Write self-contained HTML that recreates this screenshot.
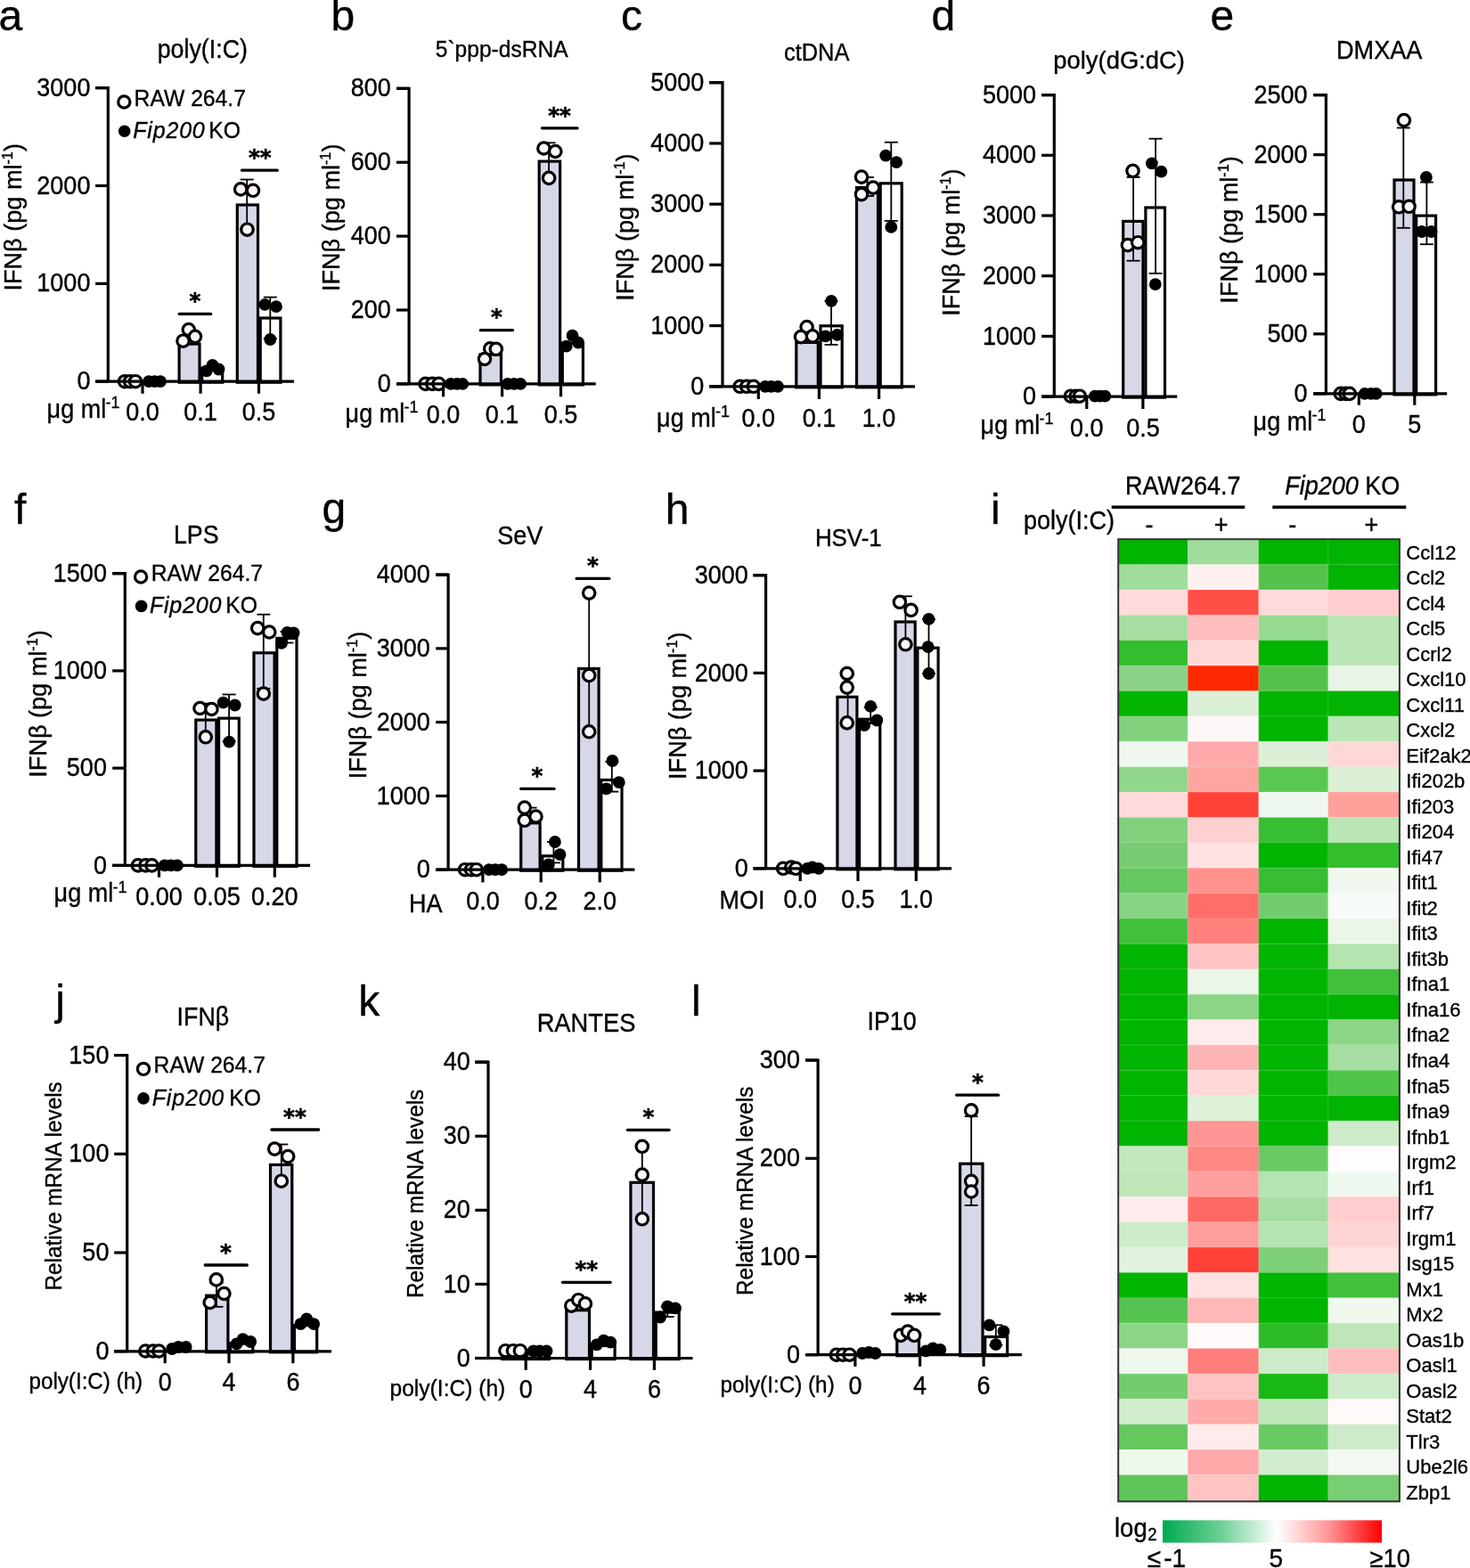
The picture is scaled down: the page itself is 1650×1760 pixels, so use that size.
<!DOCTYPE html>
<html><head><meta charset="utf-8"><title>Figure</title>
<style>html,body{margin:0;padding:0;background:#fff;}svg{display:block;}</style>
</head><body>
<svg xmlns="http://www.w3.org/2000/svg" width="1650" height="1760" viewBox="0 0 1650 1760" font-family="'Liberation Sans', Arial, Helvetica, sans-serif"><style>text{stroke:#000;stroke-width:0.35px;}</style>
<rect x="201.1" y="386.1" width="22.9" height="43.1" fill="#d6d8e8" stroke="#000" stroke-width="3.2"/>
<rect x="226.7" y="413.1" width="23" height="16.1" fill="#fff" stroke="#000" stroke-width="3.2"/>
<rect x="266.3" y="230" width="23.2" height="199.2" fill="#d6d8e8" stroke="#000" stroke-width="3.2"/>
<rect x="292.2" y="357" width="22.7" height="72.2" fill="#fff" stroke="#000" stroke-width="3.2"/>
<line x1="277.2" y1="201.5" x2="277.2" y2="257" stroke="#000" stroke-width="1.8" stroke-linecap="butt"/>
<line x1="269.7" y1="201.5" x2="284.7" y2="201.5" stroke="#000" stroke-width="1.8" stroke-linecap="butt"/>
<line x1="269.7" y1="257" x2="284.7" y2="257" stroke="#000" stroke-width="1.8" stroke-linecap="butt"/>
<line x1="303.3" y1="333.6" x2="303.3" y2="380" stroke="#000" stroke-width="1.8" stroke-linecap="butt"/>
<line x1="295.8" y1="333.6" x2="310.8" y2="333.6" stroke="#000" stroke-width="1.8" stroke-linecap="butt"/>
<line x1="295.8" y1="380" x2="310.8" y2="380" stroke="#000" stroke-width="1.8" stroke-linecap="butt"/>
<circle cx="140" cy="428.2" r="6.7" fill="#fdf7fc" stroke="#000" stroke-width="3.2"/>
<circle cx="146" cy="428.2" r="6.7" fill="#fdf7fc" stroke="#000" stroke-width="3.2"/>
<circle cx="152" cy="428.2" r="6.7" fill="#fdf7fc" stroke="#000" stroke-width="3.2"/>
<circle cx="205.5" cy="382.7" r="6.7" fill="#fdf7fc" stroke="#000" stroke-width="3.2"/>
<circle cx="211.8" cy="370" r="6.7" fill="#fdf7fc" stroke="#000" stroke-width="3.2"/>
<circle cx="219" cy="377.8" r="6.7" fill="#fdf7fc" stroke="#000" stroke-width="3.2"/>
<circle cx="270.2" cy="212.4" r="6.7" fill="#fdf7fc" stroke="#000" stroke-width="3.2"/>
<circle cx="284" cy="213.8" r="6.7" fill="#fdf7fc" stroke="#000" stroke-width="3.2"/>
<circle cx="277.5" cy="257.7" r="6.7" fill="#fdf7fc" stroke="#000" stroke-width="3.2"/>
<circle cx="167" cy="428.2" r="6.9" fill="#000"/>
<circle cx="173.6" cy="428.2" r="6.9" fill="#000"/>
<circle cx="180" cy="428.2" r="6.9" fill="#000"/>
<circle cx="231.8" cy="416.4" r="6.9" fill="#000"/>
<circle cx="238.5" cy="410" r="6.9" fill="#000"/>
<circle cx="245.5" cy="414.5" r="6.9" fill="#000"/>
<circle cx="297.3" cy="341.8" r="6.9" fill="#000"/>
<circle cx="310" cy="344.2" r="6.9" fill="#000"/>
<circle cx="303.3" cy="381" r="6.9" fill="#000"/>
<path d="M107.1 98.6H121.3V428.2" fill="none" stroke="#000" stroke-width="3.2" stroke-linejoin="miter"/>
<line x1="107.1" y1="428.2" x2="330" y2="428.2" stroke="#000" stroke-width="3.2" stroke-linecap="butt"/>
<line x1="107.1" y1="98.6" x2="121.3" y2="98.6" stroke="#000" stroke-width="3.2" stroke-linecap="butt"/>
<text transform="translate(101.4 107.72) scale(1 1.07)" font-size="27" text-anchor="end">3000</text>
<line x1="107.1" y1="208.47" x2="121.3" y2="208.47" stroke="#000" stroke-width="3.2" stroke-linecap="butt"/>
<text transform="translate(101.4 217.59) scale(1 1.07)" font-size="27" text-anchor="end">2000</text>
<line x1="107.1" y1="318.33" x2="121.3" y2="318.33" stroke="#000" stroke-width="3.2" stroke-linecap="butt"/>
<text transform="translate(101.4 327.45) scale(1 1.07)" font-size="27" text-anchor="end">1000</text>
<line x1="107.1" y1="428.2" x2="121.3" y2="428.2" stroke="#000" stroke-width="3.2" stroke-linecap="butt"/>
<text transform="translate(101.4 437.32) scale(1 1.07)" font-size="27" text-anchor="end">0</text>
<line x1="160" y1="428.2" x2="160" y2="441.8" stroke="#000" stroke-width="3.2" stroke-linecap="butt"/>
<line x1="225.1" y1="428.2" x2="225.1" y2="441.8" stroke="#000" stroke-width="3.2" stroke-linecap="butt"/>
<line x1="290.5" y1="428.2" x2="290.5" y2="441.8" stroke="#000" stroke-width="3.2" stroke-linecap="butt"/>
<text transform="translate(160 472.1) scale(1 1.07)" font-size="27" text-anchor="middle">0.0</text>
<text transform="translate(225.1 472.1) scale(1 1.07)" font-size="27" text-anchor="middle">0.1</text>
<text transform="translate(290.5 472.1) scale(1 1.07)" font-size="27" text-anchor="middle">0.5</text>
<text transform="translate(52.6 468.8) scale(1 1.07)" font-size="27">μg ml<tspan font-size="18" dy="-10" dx="-0.7">-1</tspan></text>
<text transform="translate(227.3 64.8) scale(1 1.07)" font-size="26.8" text-anchor="middle">poly(I:C)</text>
<text transform="translate(-1.5 34)" font-size="48">a</text>
<text transform="translate(23.9 243.8) rotate(-90) scale(1 1.03)" font-size="27.1" text-anchor="middle">IFNβ (pg ml<tspan font-size="16.26" dy="-9.7">-1</tspan><tspan dy="9.7">)</tspan></text>
<line x1="201.2" y1="352.4" x2="236.6" y2="352.4" stroke="#000" stroke-width="3.3" stroke-linecap="round"/>
<text transform="translate(219 346.1)" font-size="24.5" text-anchor="middle" font-weight="bold" font-family="'DejaVu Sans', sans-serif" style="stroke-width:0.6px">*</text>
<line x1="271.6" y1="191.2" x2="311.2" y2="191.2" stroke="#000" stroke-width="3.3" stroke-linecap="round"/>
<text transform="translate(291.7 184.9)" font-size="24.5" text-anchor="middle" font-weight="bold" font-family="'DejaVu Sans', sans-serif" style="stroke-width:0.6px">**</text>
<circle cx="139.3" cy="114.5" r="6.6" fill="#fdf7fc" stroke="#000" stroke-width="3.2"/>
<circle cx="139.7" cy="147.2" r="6.8" fill="#000"/>
<text transform="translate(150.6 119) scale(1 1.02)" font-size="24.7">RAW 264.7</text>
<text transform="translate(149.3 155) scale(1 1.02)" font-size="25" font-style="italic" letter-spacing="0.8">Fip200</text>
<text transform="translate(234.2 155) scale(1 1.02)" font-size="24.7">KO</text>
<rect x="539" y="397.9" width="23.5" height="34" fill="#d6d8e8" stroke="#000" stroke-width="3.2"/>
<rect x="605.2" y="181.1" width="23.4" height="250.8" fill="#d6d8e8" stroke="#000" stroke-width="3.2"/>
<rect x="631.3" y="385.1" width="23.1" height="46.8" fill="#fff" stroke="#000" stroke-width="3.2"/>
<line x1="616.1" y1="160.3" x2="616.1" y2="199" stroke="#000" stroke-width="1.8" stroke-linecap="butt"/>
<line x1="608.6" y1="160.3" x2="623.6" y2="160.3" stroke="#000" stroke-width="1.8" stroke-linecap="butt"/>
<line x1="608.6" y1="199" x2="623.6" y2="199" stroke="#000" stroke-width="1.8" stroke-linecap="butt"/>
<circle cx="477.6" cy="430.9" r="6.7" fill="#fdf7fc" stroke="#000" stroke-width="3.2"/>
<circle cx="485.3" cy="430.9" r="6.7" fill="#fdf7fc" stroke="#000" stroke-width="3.2"/>
<circle cx="492.5" cy="430.9" r="6.7" fill="#fdf7fc" stroke="#000" stroke-width="3.2"/>
<circle cx="544" cy="403" r="6.7" fill="#fdf7fc" stroke="#000" stroke-width="3.2"/>
<circle cx="550.2" cy="391.3" r="6.7" fill="#fdf7fc" stroke="#000" stroke-width="3.2"/>
<circle cx="556.8" cy="391.8" r="6.7" fill="#fdf7fc" stroke="#000" stroke-width="3.2"/>
<circle cx="610.4" cy="166.5" r="6.7" fill="#fdf7fc" stroke="#000" stroke-width="3.2"/>
<circle cx="623.3" cy="170" r="6.7" fill="#fdf7fc" stroke="#000" stroke-width="3.2"/>
<circle cx="616.1" cy="199.9" r="6.7" fill="#fdf7fc" stroke="#000" stroke-width="3.2"/>
<circle cx="505.9" cy="430.9" r="6.9" fill="#000"/>
<circle cx="513" cy="430.9" r="6.9" fill="#000"/>
<circle cx="519.2" cy="430.9" r="6.9" fill="#000"/>
<circle cx="569.8" cy="430.9" r="6.9" fill="#000"/>
<circle cx="577" cy="430.9" r="6.9" fill="#000"/>
<circle cx="584.2" cy="430.9" r="6.9" fill="#000"/>
<circle cx="635.7" cy="388.7" r="6.9" fill="#000"/>
<circle cx="642.5" cy="376.7" r="6.9" fill="#000"/>
<circle cx="649" cy="384.5" r="6.9" fill="#000"/>
<path d="M445 99.3H459.1V430.9" fill="none" stroke="#000" stroke-width="3.2" stroke-linejoin="miter"/>
<line x1="445" y1="430.9" x2="668.7" y2="430.9" stroke="#000" stroke-width="3.2" stroke-linecap="butt"/>
<line x1="445" y1="99.3" x2="459.1" y2="99.3" stroke="#000" stroke-width="3.2" stroke-linecap="butt"/>
<text transform="translate(438.8 108.42) scale(1 1.07)" font-size="27" text-anchor="end">800</text>
<line x1="445" y1="182.2" x2="459.1" y2="182.2" stroke="#000" stroke-width="3.2" stroke-linecap="butt"/>
<text transform="translate(438.8 191.32) scale(1 1.07)" font-size="27" text-anchor="end">600</text>
<line x1="445" y1="265.1" x2="459.1" y2="265.1" stroke="#000" stroke-width="3.2" stroke-linecap="butt"/>
<text transform="translate(438.8 274.22) scale(1 1.07)" font-size="27" text-anchor="end">400</text>
<line x1="445" y1="348" x2="459.1" y2="348" stroke="#000" stroke-width="3.2" stroke-linecap="butt"/>
<text transform="translate(438.8 357.12) scale(1 1.07)" font-size="27" text-anchor="end">200</text>
<line x1="445" y1="430.9" x2="459.1" y2="430.9" stroke="#000" stroke-width="3.2" stroke-linecap="butt"/>
<text transform="translate(438.8 440.02) scale(1 1.07)" font-size="27" text-anchor="end">0</text>
<line x1="497.6" y1="430.9" x2="497.6" y2="445.3" stroke="#000" stroke-width="3.2" stroke-linecap="butt"/>
<line x1="563.6" y1="430.9" x2="563.6" y2="445.3" stroke="#000" stroke-width="3.2" stroke-linecap="butt"/>
<line x1="629.5" y1="430.9" x2="629.5" y2="445.3" stroke="#000" stroke-width="3.2" stroke-linecap="butt"/>
<text transform="translate(497.6 474.7) scale(1 1.07)" font-size="27" text-anchor="middle">0.0</text>
<text transform="translate(563.6 474.7) scale(1 1.07)" font-size="27" text-anchor="middle">0.1</text>
<text transform="translate(629.5 474.7) scale(1 1.07)" font-size="27" text-anchor="middle">0.5</text>
<text transform="translate(387.6 473.6) scale(1 1.07)" font-size="27">μg ml<tspan font-size="18" dy="-10" dx="-0.7">-1</tspan></text>
<text transform="translate(563.2 64.3) scale(1 1.07)" font-size="24.6" text-anchor="middle">5`ppp-dsRNA</text>
<text transform="translate(371.5 34)" font-size="48">b</text>
<text transform="translate(380.8 244.3) rotate(-90) scale(1 1.03)" font-size="27.1" text-anchor="middle">IFNβ (pg ml<tspan font-size="16.26" dy="-9.7">-1</tspan><tspan dy="9.7">)</tspan></text>
<line x1="539.4" y1="370.7" x2="575.4" y2="370.7" stroke="#000" stroke-width="3.3" stroke-linecap="round"/>
<text transform="translate(557.4 364.4)" font-size="24.5" text-anchor="middle" font-weight="bold" font-family="'DejaVu Sans', sans-serif" style="stroke-width:0.6px">*</text>
<line x1="608.4" y1="143.8" x2="648.1" y2="143.8" stroke="#000" stroke-width="3.3" stroke-linecap="round"/>
<text transform="translate(628 137.5)" font-size="24.5" text-anchor="middle" font-weight="bold" font-family="'DejaVu Sans', sans-serif" style="stroke-width:0.6px">**</text>
<rect x="893.8" y="384.4" width="24.5" height="50.4" fill="#d6d8e8" stroke="#000" stroke-width="3.2"/>
<rect x="921" y="365.8" width="24.2" height="69" fill="#fff" stroke="#000" stroke-width="3.2"/>
<rect x="961.5" y="210.5" width="24" height="224.3" fill="#d6d8e8" stroke="#000" stroke-width="3.2"/>
<rect x="988.2" y="205.8" width="24" height="229" fill="#fff" stroke="#000" stroke-width="3.2"/>
<line x1="933" y1="337.8" x2="933" y2="386.9" stroke="#000" stroke-width="1.8" stroke-linecap="butt"/>
<line x1="925.5" y1="337.8" x2="940.5" y2="337.8" stroke="#000" stroke-width="1.8" stroke-linecap="butt"/>
<line x1="925.5" y1="386.9" x2="940.5" y2="386.9" stroke="#000" stroke-width="1.8" stroke-linecap="butt"/>
<line x1="973.5" y1="199" x2="973.5" y2="220" stroke="#000" stroke-width="1.8" stroke-linecap="butt"/>
<line x1="966" y1="199" x2="981" y2="199" stroke="#000" stroke-width="1.8" stroke-linecap="butt"/>
<line x1="966" y1="220" x2="981" y2="220" stroke="#000" stroke-width="1.8" stroke-linecap="butt"/>
<line x1="1000.3" y1="159.7" x2="1000.3" y2="247.9" stroke="#000" stroke-width="1.8" stroke-linecap="butt"/>
<line x1="992.8" y1="159.7" x2="1007.8" y2="159.7" stroke="#000" stroke-width="1.8" stroke-linecap="butt"/>
<line x1="992.8" y1="247.9" x2="1007.8" y2="247.9" stroke="#000" stroke-width="1.8" stroke-linecap="butt"/>
<circle cx="830.6" cy="433.8" r="6.7" fill="#fdf7fc" stroke="#000" stroke-width="3.2"/>
<circle cx="838.2" cy="433.8" r="6.7" fill="#fdf7fc" stroke="#000" stroke-width="3.2"/>
<circle cx="845.8" cy="433.8" r="6.7" fill="#fdf7fc" stroke="#000" stroke-width="3.2"/>
<circle cx="905.6" cy="367" r="6.7" fill="#fdf7fc" stroke="#000" stroke-width="3.2"/>
<circle cx="899" cy="378.1" r="6.7" fill="#fdf7fc" stroke="#000" stroke-width="3.2"/>
<circle cx="912.1" cy="377.3" r="6.7" fill="#fdf7fc" stroke="#000" stroke-width="3.2"/>
<circle cx="967" cy="198.6" r="6.7" fill="#fdf7fc" stroke="#000" stroke-width="3.2"/>
<circle cx="980" cy="210.6" r="6.7" fill="#fdf7fc" stroke="#000" stroke-width="3.2"/>
<circle cx="967" cy="218.2" r="6.7" fill="#fdf7fc" stroke="#000" stroke-width="3.2"/>
<circle cx="858.9" cy="433.8" r="6.9" fill="#000"/>
<circle cx="865.5" cy="433.8" r="6.9" fill="#000"/>
<circle cx="873.1" cy="433.8" r="6.9" fill="#000"/>
<circle cx="926.6" cy="377.3" r="6.9" fill="#000"/>
<circle cx="939.7" cy="375.9" r="6.9" fill="#000"/>
<circle cx="933.1" cy="337.8" r="6.9" fill="#000"/>
<circle cx="994.2" cy="174.6" r="6.9" fill="#000"/>
<circle cx="1006.2" cy="182.2" r="6.9" fill="#000"/>
<circle cx="1000.3" cy="254.9" r="6.9" fill="#000"/>
<path d="M796.2 92.7H811V433.8" fill="none" stroke="#000" stroke-width="3.2" stroke-linejoin="miter"/>
<line x1="796.2" y1="433.8" x2="1027" y2="433.8" stroke="#000" stroke-width="3.2" stroke-linecap="butt"/>
<line x1="796.2" y1="92.7" x2="811" y2="92.7" stroke="#000" stroke-width="3.2" stroke-linecap="butt"/>
<text transform="translate(790.2 101.82) scale(1 1.07)" font-size="27" text-anchor="end">5000</text>
<line x1="796.2" y1="160.92" x2="811" y2="160.92" stroke="#000" stroke-width="3.2" stroke-linecap="butt"/>
<text transform="translate(790.2 170.04) scale(1 1.07)" font-size="27" text-anchor="end">4000</text>
<line x1="796.2" y1="229.14" x2="811" y2="229.14" stroke="#000" stroke-width="3.2" stroke-linecap="butt"/>
<text transform="translate(790.2 238.26) scale(1 1.07)" font-size="27" text-anchor="end">3000</text>
<line x1="796.2" y1="297.36" x2="811" y2="297.36" stroke="#000" stroke-width="3.2" stroke-linecap="butt"/>
<text transform="translate(790.2 306.48) scale(1 1.07)" font-size="27" text-anchor="end">2000</text>
<line x1="796.2" y1="365.58" x2="811" y2="365.58" stroke="#000" stroke-width="3.2" stroke-linecap="butt"/>
<text transform="translate(790.2 374.7) scale(1 1.07)" font-size="27" text-anchor="end">1000</text>
<line x1="796.2" y1="433.8" x2="811" y2="433.8" stroke="#000" stroke-width="3.2" stroke-linecap="butt"/>
<text transform="translate(790.2 442.92) scale(1 1.07)" font-size="27" text-anchor="end">0</text>
<line x1="851.3" y1="433.8" x2="851.3" y2="448" stroke="#000" stroke-width="3.2" stroke-linecap="butt"/>
<line x1="919.4" y1="433.8" x2="919.4" y2="448" stroke="#000" stroke-width="3.2" stroke-linecap="butt"/>
<line x1="986.6" y1="433.8" x2="986.6" y2="448" stroke="#000" stroke-width="3.2" stroke-linecap="butt"/>
<text transform="translate(851.3 479.3) scale(1 1.07)" font-size="27" text-anchor="middle">0.0</text>
<text transform="translate(919.4 479.3) scale(1 1.07)" font-size="27" text-anchor="middle">0.1</text>
<text transform="translate(986.6 479.3) scale(1 1.07)" font-size="27" text-anchor="middle">1.0</text>
<text transform="translate(737.1 478.6) scale(1 1.07)" font-size="27">μg ml<tspan font-size="18" dy="-10" dx="-0.7">-1</tspan></text>
<text transform="translate(916.7 67.6) scale(1 1.07)" font-size="25.4" text-anchor="middle">ctDNA</text>
<text transform="translate(697 34.3)" font-size="48">c</text>
<text transform="translate(711.2 255.1) rotate(-90) scale(1 1.03)" font-size="27.1" text-anchor="middle">IFNβ (pg ml<tspan font-size="16.26" dy="-9.7">-1</tspan><tspan dy="9.7">)</tspan></text>
<rect x="1260.7" y="248.4" width="22.3" height="197.7" fill="#d6d8e8" stroke="#000" stroke-width="3.2"/>
<rect x="1285.9" y="233" width="21.6" height="213.1" fill="#fff" stroke="#000" stroke-width="3.2"/>
<line x1="1272.1" y1="198.9" x2="1272.1" y2="292.7" stroke="#000" stroke-width="1.8" stroke-linecap="butt"/>
<line x1="1264.6" y1="198.9" x2="1279.6" y2="198.9" stroke="#000" stroke-width="1.8" stroke-linecap="butt"/>
<line x1="1264.6" y1="292.7" x2="1279.6" y2="292.7" stroke="#000" stroke-width="1.8" stroke-linecap="butt"/>
<line x1="1297.1" y1="155.7" x2="1297.1" y2="306.9" stroke="#000" stroke-width="1.8" stroke-linecap="butt"/>
<line x1="1289.6" y1="155.7" x2="1304.6" y2="155.7" stroke="#000" stroke-width="1.8" stroke-linecap="butt"/>
<line x1="1289.6" y1="306.9" x2="1304.6" y2="306.9" stroke="#000" stroke-width="1.8" stroke-linecap="butt"/>
<circle cx="1201.9" cy="444.7" r="6.7" fill="#fdf7fc" stroke="#000" stroke-width="3.2"/>
<circle cx="1207.6" cy="444.7" r="6.7" fill="#fdf7fc" stroke="#000" stroke-width="3.2"/>
<circle cx="1211.9" cy="444.7" r="6.7" fill="#fdf7fc" stroke="#000" stroke-width="3.2"/>
<circle cx="1271.5" cy="191.8" r="6.7" fill="#fdf7fc" stroke="#000" stroke-width="3.2"/>
<circle cx="1265.9" cy="275.1" r="6.7" fill="#fdf7fc" stroke="#000" stroke-width="3.2"/>
<circle cx="1277.2" cy="272.2" r="6.7" fill="#fdf7fc" stroke="#000" stroke-width="3.2"/>
<circle cx="1228.9" cy="444.7" r="6.9" fill="#000"/>
<circle cx="1234.6" cy="444.7" r="6.9" fill="#000"/>
<circle cx="1240.3" cy="444.7" r="6.9" fill="#000"/>
<circle cx="1292.9" cy="183.3" r="6.9" fill="#000"/>
<circle cx="1303.4" cy="192.7" r="6.9" fill="#000"/>
<circle cx="1296.8" cy="319.1" r="6.9" fill="#000"/>
<path d="M1169.1 106.6H1183.3V445.1" fill="none" stroke="#000" stroke-width="3.2" stroke-linejoin="miter"/>
<line x1="1169.1" y1="445.1" x2="1321.3" y2="445.1" stroke="#000" stroke-width="3.2" stroke-linecap="butt"/>
<line x1="1169.1" y1="106.6" x2="1183.3" y2="106.6" stroke="#000" stroke-width="3.2" stroke-linecap="butt"/>
<text transform="translate(1163 115.72) scale(1 1.07)" font-size="27" text-anchor="end">5000</text>
<line x1="1169.1" y1="174.3" x2="1183.3" y2="174.3" stroke="#000" stroke-width="3.2" stroke-linecap="butt"/>
<text transform="translate(1163 183.42) scale(1 1.07)" font-size="27" text-anchor="end">4000</text>
<line x1="1169.1" y1="242" x2="1183.3" y2="242" stroke="#000" stroke-width="3.2" stroke-linecap="butt"/>
<text transform="translate(1163 251.12) scale(1 1.07)" font-size="27" text-anchor="end">3000</text>
<line x1="1169.1" y1="309.7" x2="1183.3" y2="309.7" stroke="#000" stroke-width="3.2" stroke-linecap="butt"/>
<text transform="translate(1163 318.82) scale(1 1.07)" font-size="27" text-anchor="end">2000</text>
<line x1="1169.1" y1="377.4" x2="1183.3" y2="377.4" stroke="#000" stroke-width="3.2" stroke-linecap="butt"/>
<text transform="translate(1163 386.52) scale(1 1.07)" font-size="27" text-anchor="end">1000</text>
<line x1="1169.1" y1="445.1" x2="1183.3" y2="445.1" stroke="#000" stroke-width="3.2" stroke-linecap="butt"/>
<text transform="translate(1163 454.22) scale(1 1.07)" font-size="27" text-anchor="end">0</text>
<line x1="1219.8" y1="445.1" x2="1219.8" y2="459" stroke="#000" stroke-width="3.2" stroke-linecap="butt"/>
<line x1="1282.9" y1="445.1" x2="1282.9" y2="459" stroke="#000" stroke-width="3.2" stroke-linecap="butt"/>
<text transform="translate(1219.8 490.4) scale(1 1.07)" font-size="27" text-anchor="middle">0.0</text>
<text transform="translate(1282.9 490.4) scale(1 1.07)" font-size="27" text-anchor="middle">0.5</text>
<text transform="translate(1100.6 486.8) scale(1 1.07)" font-size="27">μg ml<tspan font-size="18" dy="-10" dx="-0.7">-1</tspan></text>
<text transform="translate(1256.1 77.3) scale(1 0.98)" font-size="27.4" text-anchor="middle">poly(dG:dC)</text>
<text transform="translate(1045.5 34.1)" font-size="48">d</text>
<text transform="translate(1076.5 272.1) rotate(-90) scale(1 1.03)" font-size="27.1" text-anchor="middle">IFNβ (pg ml<tspan font-size="16.26" dy="-9.7">-1</tspan><tspan dy="9.7">)</tspan></text>
<rect x="1565" y="202" width="22" height="240.9" fill="#d6d8e8" stroke="#000" stroke-width="3.2"/>
<rect x="1589.7" y="242.1" width="21.9" height="200.8" fill="#fff" stroke="#000" stroke-width="3.2"/>
<line x1="1575.3" y1="143.5" x2="1575.3" y2="255.8" stroke="#000" stroke-width="1.8" stroke-linecap="butt"/>
<line x1="1567.8" y1="143.5" x2="1582.8" y2="143.5" stroke="#000" stroke-width="1.8" stroke-linecap="butt"/>
<line x1="1567.8" y1="255.8" x2="1582.8" y2="255.8" stroke="#000" stroke-width="1.8" stroke-linecap="butt"/>
<line x1="1601.4" y1="204.6" x2="1601.4" y2="274.2" stroke="#000" stroke-width="1.8" stroke-linecap="butt"/>
<line x1="1593.9" y1="204.6" x2="1608.9" y2="204.6" stroke="#000" stroke-width="1.8" stroke-linecap="butt"/>
<line x1="1593.9" y1="274.2" x2="1608.9" y2="274.2" stroke="#000" stroke-width="1.8" stroke-linecap="butt"/>
<circle cx="1504.8" cy="441.9" r="6.7" fill="#fdf7fc" stroke="#000" stroke-width="3.2"/>
<circle cx="1510.5" cy="441.9" r="6.7" fill="#fdf7fc" stroke="#000" stroke-width="3.2"/>
<circle cx="1514.8" cy="441.9" r="6.7" fill="#fdf7fc" stroke="#000" stroke-width="3.2"/>
<circle cx="1575.9" cy="135" r="6.7" fill="#fdf7fc" stroke="#000" stroke-width="3.2"/>
<circle cx="1570.1" cy="232.3" r="6.7" fill="#fdf7fc" stroke="#000" stroke-width="3.2"/>
<circle cx="1581.6" cy="231.8" r="6.7" fill="#fdf7fc" stroke="#000" stroke-width="3.2"/>
<circle cx="1531.8" cy="441.9" r="6.9" fill="#000"/>
<circle cx="1538.9" cy="441.9" r="6.9" fill="#000"/>
<circle cx="1544.6" cy="441.9" r="6.9" fill="#000"/>
<circle cx="1600.9" cy="198.9" r="6.9" fill="#000"/>
<circle cx="1595.8" cy="260" r="6.9" fill="#000"/>
<circle cx="1606.6" cy="260" r="6.9" fill="#000"/>
<path d="M1474.2 106.6H1488.4V441.9" fill="none" stroke="#000" stroke-width="3.2" stroke-linejoin="miter"/>
<line x1="1474.2" y1="441.9" x2="1624.2" y2="441.9" stroke="#000" stroke-width="3.2" stroke-linecap="butt"/>
<line x1="1474.2" y1="106.6" x2="1488.4" y2="106.6" stroke="#000" stroke-width="3.2" stroke-linecap="butt"/>
<text transform="translate(1467.6 115.72) scale(1 1.07)" font-size="27" text-anchor="end">2500</text>
<line x1="1474.2" y1="173.66" x2="1488.4" y2="173.66" stroke="#000" stroke-width="3.2" stroke-linecap="butt"/>
<text transform="translate(1467.6 182.78) scale(1 1.07)" font-size="27" text-anchor="end">2000</text>
<line x1="1474.2" y1="240.72" x2="1488.4" y2="240.72" stroke="#000" stroke-width="3.2" stroke-linecap="butt"/>
<text transform="translate(1467.6 249.84) scale(1 1.07)" font-size="27" text-anchor="end">1500</text>
<line x1="1474.2" y1="307.78" x2="1488.4" y2="307.78" stroke="#000" stroke-width="3.2" stroke-linecap="butt"/>
<text transform="translate(1467.6 316.9) scale(1 1.07)" font-size="27" text-anchor="end">1000</text>
<line x1="1474.2" y1="374.84" x2="1488.4" y2="374.84" stroke="#000" stroke-width="3.2" stroke-linecap="butt"/>
<text transform="translate(1467.6 383.96) scale(1 1.07)" font-size="27" text-anchor="end">500</text>
<line x1="1474.2" y1="441.9" x2="1488.4" y2="441.9" stroke="#000" stroke-width="3.2" stroke-linecap="butt"/>
<text transform="translate(1467.6 451.02) scale(1 1.07)" font-size="27" text-anchor="end">0</text>
<line x1="1525.3" y1="441.9" x2="1525.3" y2="454.7" stroke="#000" stroke-width="3.2" stroke-linecap="butt"/>
<line x1="1587.8" y1="441.9" x2="1587.8" y2="454.7" stroke="#000" stroke-width="3.2" stroke-linecap="butt"/>
<text transform="translate(1525.3 486.2) scale(1 1.07)" font-size="27" text-anchor="middle">0</text>
<text transform="translate(1587.8 486.2) scale(1 1.07)" font-size="27" text-anchor="middle">5</text>
<text transform="translate(1406.6 482.6) scale(1 1.07)" font-size="27">μg ml<tspan font-size="18" dy="-10" dx="-0.7">-1</tspan></text>
<text transform="translate(1548.2 65.9) scale(1 1.07)" font-size="27.1" text-anchor="middle">DMXAA</text>
<text transform="translate(1358.5 34.1)" font-size="48">e</text>
<text transform="translate(1389.3 257.9) rotate(-90) scale(1 1.03)" font-size="27.1" text-anchor="middle">IFNβ (pg ml<tspan font-size="16.26" dy="-9.7">-1</tspan><tspan dy="9.7">)</tspan></text>
<rect x="219.8" y="808.1" width="23.1" height="164.3" fill="#d6d8e8" stroke="#000" stroke-width="3.2"/>
<rect x="245.6" y="806.2" width="22.7" height="166.2" fill="#fff" stroke="#000" stroke-width="3.2"/>
<rect x="285" y="732.8" width="23.1" height="239.6" fill="#d6d8e8" stroke="#000" stroke-width="3.2"/>
<rect x="310.8" y="716.4" width="22.2" height="256" fill="#fff" stroke="#000" stroke-width="3.2"/>
<line x1="230.8" y1="789.7" x2="230.8" y2="826" stroke="#000" stroke-width="1.8" stroke-linecap="butt"/>
<line x1="223.3" y1="789.7" x2="238.3" y2="789.7" stroke="#000" stroke-width="1.8" stroke-linecap="butt"/>
<line x1="223.3" y1="826" x2="238.3" y2="826" stroke="#000" stroke-width="1.8" stroke-linecap="butt"/>
<line x1="257.1" y1="779.5" x2="257.1" y2="832" stroke="#000" stroke-width="1.8" stroke-linecap="butt"/>
<line x1="249.6" y1="779.5" x2="264.6" y2="779.5" stroke="#000" stroke-width="1.8" stroke-linecap="butt"/>
<line x1="249.6" y1="832" x2="264.6" y2="832" stroke="#000" stroke-width="1.8" stroke-linecap="butt"/>
<line x1="295.8" y1="689.7" x2="295.8" y2="772.8" stroke="#000" stroke-width="1.8" stroke-linecap="butt"/>
<line x1="288.3" y1="689.7" x2="303.3" y2="689.7" stroke="#000" stroke-width="1.8" stroke-linecap="butt"/>
<line x1="288.3" y1="772.8" x2="303.3" y2="772.8" stroke="#000" stroke-width="1.8" stroke-linecap="butt"/>
<line x1="322" y1="709" x2="322" y2="721.5" stroke="#000" stroke-width="1.8" stroke-linecap="butt"/>
<line x1="314.5" y1="709" x2="329.5" y2="709" stroke="#000" stroke-width="1.8" stroke-linecap="butt"/>
<line x1="314.5" y1="721.5" x2="329.5" y2="721.5" stroke="#000" stroke-width="1.8" stroke-linecap="butt"/>
<circle cx="154.9" cy="971.4" r="6.7" fill="#fdf7fc" stroke="#000" stroke-width="3.2"/>
<circle cx="163.4" cy="971.4" r="6.7" fill="#fdf7fc" stroke="#000" stroke-width="3.2"/>
<circle cx="170.5" cy="971.4" r="6.7" fill="#fdf7fc" stroke="#000" stroke-width="3.2"/>
<circle cx="224.5" cy="795" r="6.7" fill="#fdf7fc" stroke="#000" stroke-width="3.2"/>
<circle cx="237.5" cy="796" r="6.7" fill="#fdf7fc" stroke="#000" stroke-width="3.2"/>
<circle cx="230.8" cy="827.3" r="6.7" fill="#fdf7fc" stroke="#000" stroke-width="3.2"/>
<circle cx="289.2" cy="705.1" r="6.7" fill="#fdf7fc" stroke="#000" stroke-width="3.2"/>
<circle cx="302.3" cy="709.5" r="6.7" fill="#fdf7fc" stroke="#000" stroke-width="3.2"/>
<circle cx="295.8" cy="778.6" r="6.7" fill="#fdf7fc" stroke="#000" stroke-width="3.2"/>
<circle cx="184.7" cy="971.4" r="6.9" fill="#000"/>
<circle cx="191.8" cy="971.4" r="6.9" fill="#000"/>
<circle cx="198.9" cy="971.4" r="6.9" fill="#000"/>
<circle cx="250.6" cy="788.7" r="6.9" fill="#000"/>
<circle cx="263.7" cy="791.5" r="6.9" fill="#000"/>
<circle cx="257.2" cy="832.7" r="6.9" fill="#000"/>
<circle cx="316" cy="721.9" r="6.9" fill="#000"/>
<circle cx="322.5" cy="709.9" r="6.9" fill="#000"/>
<circle cx="329.6" cy="710.5" r="6.9" fill="#000"/>
<path d="M126.2 643.7H140.3V971.4" fill="none" stroke="#000" stroke-width="3.2" stroke-linejoin="miter"/>
<line x1="126.2" y1="971.4" x2="348.1" y2="971.4" stroke="#000" stroke-width="3.2" stroke-linecap="butt"/>
<line x1="126.2" y1="643.7" x2="140.3" y2="643.7" stroke="#000" stroke-width="3.2" stroke-linecap="butt"/>
<text transform="translate(119.9 652.82) scale(1 1.07)" font-size="27" text-anchor="end">1500</text>
<line x1="126.2" y1="752.93" x2="140.3" y2="752.93" stroke="#000" stroke-width="3.2" stroke-linecap="butt"/>
<text transform="translate(119.9 762.05) scale(1 1.07)" font-size="27" text-anchor="end">1000</text>
<line x1="126.2" y1="862.17" x2="140.3" y2="862.17" stroke="#000" stroke-width="3.2" stroke-linecap="butt"/>
<text transform="translate(119.9 871.29) scale(1 1.07)" font-size="27" text-anchor="end">500</text>
<line x1="126.2" y1="971.4" x2="140.3" y2="971.4" stroke="#000" stroke-width="3.2" stroke-linecap="butt"/>
<text transform="translate(119.9 980.52) scale(1 1.07)" font-size="27" text-anchor="end">0</text>
<line x1="178.5" y1="971.4" x2="178.5" y2="984.7" stroke="#000" stroke-width="3.2" stroke-linecap="butt"/>
<line x1="243.5" y1="971.4" x2="243.5" y2="984.7" stroke="#000" stroke-width="3.2" stroke-linecap="butt"/>
<line x1="308.3" y1="971.4" x2="308.3" y2="984.7" stroke="#000" stroke-width="3.2" stroke-linecap="butt"/>
<text transform="translate(178.5 1015.7) scale(1 1.07)" font-size="27" text-anchor="middle">0.00</text>
<text transform="translate(243.5 1015.7) scale(1 1.07)" font-size="27" text-anchor="middle">0.05</text>
<text transform="translate(308.3 1015.7) scale(1 1.07)" font-size="27" text-anchor="middle">0.20</text>
<text transform="translate(60.6 1012.3) scale(1 1.07)" font-size="27">μg ml<tspan font-size="18" dy="-10" dx="-0.7">-1</tspan></text>
<text transform="translate(220.2 609.6) scale(1 1.07)" font-size="26.8" text-anchor="middle">LPS</text>
<text transform="translate(16 588.3)" font-size="48">f</text>
<text transform="translate(52.2 790) rotate(-90) scale(1 1.03)" font-size="27.1" text-anchor="middle">IFNβ (pg ml<tspan font-size="16.26" dy="-9.7">-1</tspan><tspan dy="9.7">)</tspan></text>
<circle cx="158.1" cy="647.5" r="6.6" fill="#fdf7fc" stroke="#000" stroke-width="3.2"/>
<circle cx="158.6" cy="680.4" r="6.8" fill="#000"/>
<text transform="translate(169.7 651.8) scale(1 1.02)" font-size="24.7">RAW 264.7</text>
<text transform="translate(167.9 688.2) scale(1 1.02)" font-size="25" font-style="italic" letter-spacing="0.8">Fip200</text>
<text transform="translate(253.3 688.2) scale(1 1.02)" font-size="24.7">KO</text>
<rect x="584.7" y="923.8" width="21.4" height="53.4" fill="#d6d8e8" stroke="#000" stroke-width="3.2"/>
<rect x="608.8" y="960.8" width="23" height="16.4" fill="#fff" stroke="#000" stroke-width="3.2"/>
<rect x="649.5" y="750.5" width="22.6" height="226.7" fill="#d6d8e8" stroke="#000" stroke-width="3.2"/>
<rect x="674.8" y="875.5" width="23.2" height="101.7" fill="#fff" stroke="#000" stroke-width="3.2"/>
<line x1="595" y1="906.6" x2="595" y2="916" stroke="#000" stroke-width="1.8" stroke-linecap="butt"/>
<line x1="587.5" y1="906.6" x2="602.5" y2="906.6" stroke="#000" stroke-width="1.8" stroke-linecap="butt"/>
<line x1="587.5" y1="916" x2="602.5" y2="916" stroke="#000" stroke-width="1.8" stroke-linecap="butt"/>
<line x1="621.4" y1="945" x2="621.4" y2="968.4" stroke="#000" stroke-width="1.8" stroke-linecap="butt"/>
<line x1="613.9" y1="945" x2="628.9" y2="945" stroke="#000" stroke-width="1.8" stroke-linecap="butt"/>
<line x1="613.9" y1="968.4" x2="628.9" y2="968.4" stroke="#000" stroke-width="1.8" stroke-linecap="butt"/>
<line x1="661.2" y1="665" x2="661.2" y2="821" stroke="#000" stroke-width="1.8" stroke-linecap="butt"/>
<line x1="653.7" y1="665" x2="668.7" y2="665" stroke="#000" stroke-width="1.8" stroke-linecap="butt"/>
<line x1="653.7" y1="821" x2="668.7" y2="821" stroke="#000" stroke-width="1.8" stroke-linecap="butt"/>
<line x1="686.8" y1="855" x2="686.8" y2="888.6" stroke="#000" stroke-width="1.8" stroke-linecap="butt"/>
<line x1="679.3" y1="855" x2="694.3" y2="855" stroke="#000" stroke-width="1.8" stroke-linecap="butt"/>
<line x1="679.3" y1="888.6" x2="694.3" y2="888.6" stroke="#000" stroke-width="1.8" stroke-linecap="butt"/>
<circle cx="522" cy="976.2" r="6.7" fill="#fdf7fc" stroke="#000" stroke-width="3.2"/>
<circle cx="529" cy="976.2" r="6.7" fill="#fdf7fc" stroke="#000" stroke-width="3.2"/>
<circle cx="534.8" cy="976.2" r="6.7" fill="#fdf7fc" stroke="#000" stroke-width="3.2"/>
<circle cx="588.8" cy="906.6" r="6.7" fill="#fdf7fc" stroke="#000" stroke-width="3.2"/>
<circle cx="588.8" cy="920.8" r="6.7" fill="#fdf7fc" stroke="#000" stroke-width="3.2"/>
<circle cx="601.5" cy="916.5" r="6.7" fill="#fdf7fc" stroke="#000" stroke-width="3.2"/>
<circle cx="661.2" cy="665.6" r="6.7" fill="#fdf7fc" stroke="#000" stroke-width="3.2"/>
<circle cx="661.2" cy="758.2" r="6.7" fill="#fdf7fc" stroke="#000" stroke-width="3.2"/>
<circle cx="661.2" cy="821.3" r="6.7" fill="#fdf7fc" stroke="#000" stroke-width="3.2"/>
<circle cx="549" cy="976.2" r="6.9" fill="#000"/>
<circle cx="556" cy="976.2" r="6.9" fill="#000"/>
<circle cx="563.2" cy="976.2" r="6.9" fill="#000"/>
<circle cx="622.9" cy="945" r="6.9" fill="#000"/>
<circle cx="628.5" cy="959.2" r="6.9" fill="#000"/>
<circle cx="615.8" cy="970.5" r="6.9" fill="#000"/>
<circle cx="687.4" cy="854" r="6.9" fill="#000"/>
<circle cx="694.8" cy="878.2" r="6.9" fill="#000"/>
<circle cx="680.5" cy="885.3" r="6.9" fill="#000"/>
<path d="M489.2 645.1H503.1V976.2" fill="none" stroke="#000" stroke-width="3.2" stroke-linejoin="miter"/>
<line x1="489.2" y1="976.2" x2="712.4" y2="976.2" stroke="#000" stroke-width="3.2" stroke-linecap="butt"/>
<line x1="489.2" y1="645.1" x2="503.1" y2="645.1" stroke="#000" stroke-width="3.2" stroke-linecap="butt"/>
<text transform="translate(482.8 654.22) scale(1 1.07)" font-size="27" text-anchor="end">4000</text>
<line x1="489.2" y1="727.88" x2="503.1" y2="727.88" stroke="#000" stroke-width="3.2" stroke-linecap="butt"/>
<text transform="translate(482.8 737) scale(1 1.07)" font-size="27" text-anchor="end">3000</text>
<line x1="489.2" y1="810.65" x2="503.1" y2="810.65" stroke="#000" stroke-width="3.2" stroke-linecap="butt"/>
<text transform="translate(482.8 819.77) scale(1 1.07)" font-size="27" text-anchor="end">2000</text>
<line x1="489.2" y1="893.43" x2="503.1" y2="893.43" stroke="#000" stroke-width="3.2" stroke-linecap="butt"/>
<text transform="translate(482.8 902.55) scale(1 1.07)" font-size="27" text-anchor="end">1000</text>
<line x1="489.2" y1="976.2" x2="503.1" y2="976.2" stroke="#000" stroke-width="3.2" stroke-linecap="butt"/>
<text transform="translate(482.8 985.32) scale(1 1.07)" font-size="27" text-anchor="end">0</text>
<line x1="541.9" y1="976.2" x2="541.9" y2="990.4" stroke="#000" stroke-width="3.2" stroke-linecap="butt"/>
<line x1="607.2" y1="976.2" x2="607.2" y2="990.4" stroke="#000" stroke-width="3.2" stroke-linecap="butt"/>
<line x1="673.2" y1="976.2" x2="673.2" y2="990.4" stroke="#000" stroke-width="3.2" stroke-linecap="butt"/>
<text transform="translate(541.9 1020.9) scale(1 1.07)" font-size="27" text-anchor="middle">0.0</text>
<text transform="translate(607.2 1020.9) scale(1 1.07)" font-size="27" text-anchor="middle">0.2</text>
<text transform="translate(673.2 1020.9) scale(1 1.07)" font-size="27" text-anchor="middle">2.0</text>
<text transform="translate(459 1023.6) scale(1 1.07)" font-size="27">HA</text>
<text transform="translate(583.8 611) scale(1 1.07)" font-size="27.1" text-anchor="middle">SeV</text>
<text transform="translate(361.5 586.9)" font-size="48">g</text>
<text transform="translate(410.6 791.5) rotate(-90) scale(1 1.03)" font-size="27.1" text-anchor="middle">IFNβ (pg ml<tspan font-size="16.26" dy="-9.7">-1</tspan><tspan dy="9.7">)</tspan></text>
<line x1="584.7" y1="885.3" x2="622.1" y2="885.3" stroke="#000" stroke-width="3.3" stroke-linecap="round"/>
<text transform="translate(603 879)" font-size="24.5" text-anchor="middle" font-weight="bold" font-family="'DejaVu Sans', sans-serif" style="stroke-width:0.6px">*</text>
<line x1="647.2" y1="649.4" x2="683.8" y2="649.4" stroke="#000" stroke-width="3.3" stroke-linecap="round"/>
<text transform="translate(665.5 643.1)" font-size="24.5" text-anchor="middle" font-weight="bold" font-family="'DejaVu Sans', sans-serif" style="stroke-width:0.6px">*</text>
<rect x="939.9" y="782.3" width="22" height="193.5" fill="#d6d8e8" stroke="#000" stroke-width="3.2"/>
<rect x="964.6" y="807.3" width="23.2" height="168.5" fill="#fff" stroke="#000" stroke-width="3.2"/>
<rect x="1005" y="698" width="22.2" height="277.8" fill="#d6d8e8" stroke="#000" stroke-width="3.2"/>
<rect x="1029.9" y="727.2" width="23.2" height="248.6" fill="#fff" stroke="#000" stroke-width="3.2"/>
<line x1="951.6" y1="757" x2="951.6" y2="811" stroke="#000" stroke-width="1.8" stroke-linecap="butt"/>
<line x1="944.1" y1="757" x2="959.1" y2="757" stroke="#000" stroke-width="1.8" stroke-linecap="butt"/>
<line x1="944.1" y1="811" x2="959.1" y2="811" stroke="#000" stroke-width="1.8" stroke-linecap="butt"/>
<line x1="977.2" y1="794" x2="977.2" y2="812" stroke="#000" stroke-width="1.8" stroke-linecap="butt"/>
<line x1="969.7" y1="794" x2="984.7" y2="794" stroke="#000" stroke-width="1.8" stroke-linecap="butt"/>
<line x1="969.7" y1="812" x2="984.7" y2="812" stroke="#000" stroke-width="1.8" stroke-linecap="butt"/>
<line x1="1016.4" y1="669.3" x2="1016.4" y2="724" stroke="#000" stroke-width="1.8" stroke-linecap="butt"/>
<line x1="1008.9" y1="669.3" x2="1023.9" y2="669.3" stroke="#000" stroke-width="1.8" stroke-linecap="butt"/>
<line x1="1008.9" y1="724" x2="1023.9" y2="724" stroke="#000" stroke-width="1.8" stroke-linecap="butt"/>
<line x1="1042.5" y1="695" x2="1042.5" y2="756" stroke="#000" stroke-width="1.8" stroke-linecap="butt"/>
<line x1="1035" y1="695" x2="1050" y2="695" stroke="#000" stroke-width="1.8" stroke-linecap="butt"/>
<line x1="1035" y1="756" x2="1050" y2="756" stroke="#000" stroke-width="1.8" stroke-linecap="butt"/>
<circle cx="879.1" cy="974.8" r="6.7" fill="#fdf7fc" stroke="#000" stroke-width="3.2"/>
<circle cx="888.2" cy="973.5" r="6.7" fill="#fdf7fc" stroke="#000" stroke-width="3.2"/>
<circle cx="893.3" cy="974.8" r="6.7" fill="#fdf7fc" stroke="#000" stroke-width="3.2"/>
<circle cx="950.7" cy="756" r="6.7" fill="#fdf7fc" stroke="#000" stroke-width="3.2"/>
<circle cx="950.7" cy="771.6" r="6.7" fill="#fdf7fc" stroke="#000" stroke-width="3.2"/>
<circle cx="950.7" cy="811.4" r="6.7" fill="#fdf7fc" stroke="#000" stroke-width="3.2"/>
<circle cx="1009.9" cy="675.8" r="6.7" fill="#fdf7fc" stroke="#000" stroke-width="3.2"/>
<circle cx="1022.6" cy="684.9" r="6.7" fill="#fdf7fc" stroke="#000" stroke-width="3.2"/>
<circle cx="1016.4" cy="723.3" r="6.7" fill="#fdf7fc" stroke="#000" stroke-width="3.2"/>
<circle cx="906.1" cy="974.8" r="6.9" fill="#000"/>
<circle cx="911.8" cy="973.5" r="6.9" fill="#000"/>
<circle cx="918.9" cy="974.8" r="6.9" fill="#000"/>
<circle cx="977.2" cy="792.9" r="6.9" fill="#000"/>
<circle cx="970.1" cy="814.2" r="6.9" fill="#000"/>
<circle cx="984.3" cy="808.5" r="6.9" fill="#000"/>
<circle cx="1042.5" cy="694.9" r="6.9" fill="#000"/>
<circle cx="1041.7" cy="726.1" r="6.9" fill="#000"/>
<circle cx="1042.5" cy="756" r="6.9" fill="#000"/>
<path d="M845.5 645.7H859.6V974.8" fill="none" stroke="#000" stroke-width="3.2" stroke-linejoin="miter"/>
<line x1="845.5" y1="974.8" x2="1068.1" y2="974.8" stroke="#000" stroke-width="3.2" stroke-linecap="butt"/>
<line x1="845.5" y1="645.7" x2="859.6" y2="645.7" stroke="#000" stroke-width="3.2" stroke-linecap="butt"/>
<text transform="translate(839.7 654.82) scale(1 1.07)" font-size="27" text-anchor="end">3000</text>
<line x1="845.5" y1="755.4" x2="859.6" y2="755.4" stroke="#000" stroke-width="3.2" stroke-linecap="butt"/>
<text transform="translate(839.7 764.52) scale(1 1.07)" font-size="27" text-anchor="end">2000</text>
<line x1="845.5" y1="865.1" x2="859.6" y2="865.1" stroke="#000" stroke-width="3.2" stroke-linecap="butt"/>
<text transform="translate(839.7 874.22) scale(1 1.07)" font-size="27" text-anchor="end">1000</text>
<line x1="845.5" y1="974.8" x2="859.6" y2="974.8" stroke="#000" stroke-width="3.2" stroke-linecap="butt"/>
<text transform="translate(839.7 983.92) scale(1 1.07)" font-size="27" text-anchor="end">0</text>
<line x1="898.2" y1="974.8" x2="898.2" y2="989" stroke="#000" stroke-width="3.2" stroke-linecap="butt"/>
<line x1="963" y1="974.8" x2="963" y2="989" stroke="#000" stroke-width="3.2" stroke-linecap="butt"/>
<line x1="1028.3" y1="974.8" x2="1028.3" y2="989" stroke="#000" stroke-width="3.2" stroke-linecap="butt"/>
<text transform="translate(898.2 1019.3) scale(1 1.07)" font-size="27" text-anchor="middle">0.0</text>
<text transform="translate(963 1019.3) scale(1 1.07)" font-size="27" text-anchor="middle">0.5</text>
<text transform="translate(1028.3 1019.3) scale(1 1.07)" font-size="27" text-anchor="middle">1.0</text>
<text transform="translate(807.5 1020.3) scale(1 1.07)" font-size="27">MOI</text>
<text transform="translate(952.3 612.5) scale(1 1.07)" font-size="25.9" text-anchor="middle">HSV-1</text>
<text transform="translate(746.7 588.3)" font-size="48">h</text>
<text transform="translate(770.2 792.2) rotate(-90) scale(1 1.03)" font-size="27.1" text-anchor="middle">IFNβ (pg ml<tspan font-size="16.26" dy="-9.7">-1</tspan><tspan dy="9.7">)</tspan></text>
<rect x="231.6" y="1454.2" width="24.3" height="63.6" fill="#d6d8e8" stroke="#000" stroke-width="3.2"/>
<rect x="258.6" y="1507.6" width="25.2" height="10.2" fill="#fff" stroke="#000" stroke-width="3.2"/>
<rect x="303.5" y="1307.4" width="24.3" height="210.4" fill="#d6d8e8" stroke="#000" stroke-width="3.2"/>
<rect x="330.5" y="1487.7" width="25.2" height="30.1" fill="#fff" stroke="#000" stroke-width="3.2"/>
<line x1="243" y1="1440" x2="243" y2="1466.8" stroke="#000" stroke-width="1.8" stroke-linecap="butt"/>
<line x1="235.5" y1="1440" x2="250.5" y2="1440" stroke="#000" stroke-width="1.8" stroke-linecap="butt"/>
<line x1="235.5" y1="1466.8" x2="250.5" y2="1466.8" stroke="#000" stroke-width="1.8" stroke-linecap="butt"/>
<line x1="315.8" y1="1284.5" x2="315.8" y2="1325.5" stroke="#000" stroke-width="1.8" stroke-linecap="butt"/>
<line x1="308.3" y1="1284.5" x2="323.3" y2="1284.5" stroke="#000" stroke-width="1.8" stroke-linecap="butt"/>
<line x1="308.3" y1="1325.5" x2="323.3" y2="1325.5" stroke="#000" stroke-width="1.8" stroke-linecap="butt"/>
<circle cx="163.3" cy="1516.5" r="6.7" fill="#fdf7fc" stroke="#000" stroke-width="3.2"/>
<circle cx="171.8" cy="1516.5" r="6.7" fill="#fdf7fc" stroke="#000" stroke-width="3.2"/>
<circle cx="178.4" cy="1516.5" r="6.7" fill="#fdf7fc" stroke="#000" stroke-width="3.2"/>
<circle cx="242.8" cy="1436.4" r="6.7" fill="#fdf7fc" stroke="#000" stroke-width="3.2"/>
<circle cx="251.4" cy="1452" r="6.7" fill="#fdf7fc" stroke="#000" stroke-width="3.2"/>
<circle cx="235.7" cy="1462" r="6.7" fill="#fdf7fc" stroke="#000" stroke-width="3.2"/>
<circle cx="308.2" cy="1289.6" r="6.7" fill="#fdf7fc" stroke="#000" stroke-width="3.2"/>
<circle cx="323.2" cy="1298.1" r="6.7" fill="#fdf7fc" stroke="#000" stroke-width="3.2"/>
<circle cx="315.8" cy="1325.7" r="6.7" fill="#fdf7fc" stroke="#000" stroke-width="3.2"/>
<circle cx="193.1" cy="1514" r="6.9" fill="#000"/>
<circle cx="200.2" cy="1512" r="6.9" fill="#000"/>
<circle cx="208.7" cy="1512" r="6.9" fill="#000"/>
<circle cx="265.6" cy="1508.3" r="6.9" fill="#000"/>
<circle cx="272.6" cy="1503.2" r="6.9" fill="#000"/>
<circle cx="281.2" cy="1506" r="6.9" fill="#000"/>
<circle cx="337.4" cy="1486.1" r="6.9" fill="#000"/>
<circle cx="344.2" cy="1480.5" r="6.9" fill="#000"/>
<circle cx="352.2" cy="1486.1" r="6.9" fill="#000"/>
<path d="M128.2 1184.5H142.7V1516.8" fill="none" stroke="#000" stroke-width="3.2" stroke-linejoin="miter"/>
<line x1="128.2" y1="1516.8" x2="372" y2="1516.8" stroke="#000" stroke-width="3.2" stroke-linecap="butt"/>
<line x1="128.2" y1="1184.5" x2="142.7" y2="1184.5" stroke="#000" stroke-width="3.2" stroke-linecap="butt"/>
<text transform="translate(122.4 1193.62) scale(1 1.07)" font-size="27" text-anchor="end">150</text>
<line x1="128.2" y1="1295.27" x2="142.7" y2="1295.27" stroke="#000" stroke-width="3.2" stroke-linecap="butt"/>
<text transform="translate(122.4 1304.39) scale(1 1.07)" font-size="27" text-anchor="end">100</text>
<line x1="128.2" y1="1406.03" x2="142.7" y2="1406.03" stroke="#000" stroke-width="3.2" stroke-linecap="butt"/>
<text transform="translate(122.4 1415.15) scale(1 1.07)" font-size="27" text-anchor="end">50</text>
<line x1="128.2" y1="1516.8" x2="142.7" y2="1516.8" stroke="#000" stroke-width="3.2" stroke-linecap="butt"/>
<text transform="translate(122.4 1525.92) scale(1 1.07)" font-size="27" text-anchor="end">0</text>
<line x1="185.2" y1="1516.8" x2="185.2" y2="1530.2" stroke="#000" stroke-width="3.2" stroke-linecap="butt"/>
<line x1="257" y1="1516.8" x2="257" y2="1530.2" stroke="#000" stroke-width="3.2" stroke-linecap="butt"/>
<line x1="328.9" y1="1516.8" x2="328.9" y2="1530.2" stroke="#000" stroke-width="3.2" stroke-linecap="butt"/>
<text transform="translate(185.2 1560.8) scale(1 1.07)" font-size="27" text-anchor="middle">0</text>
<text transform="translate(257 1560.8) scale(1 1.07)" font-size="27" text-anchor="middle">4</text>
<text transform="translate(328.9 1560.8) scale(1 1.07)" font-size="27" text-anchor="middle">6</text>
<text transform="translate(32.5 1559.1) scale(1 1.07)" font-size="24.2">poly(I:C) (h)</text>
<text transform="translate(227.9 1151) scale(1 1.07)" font-size="26.8" text-anchor="middle">IFNβ</text>
<text transform="translate(62.3 1138.5)" font-size="48">j</text>
<text transform="translate(69.2 1331.4) rotate(-90) scale(1 1.03)" font-size="24.4" text-anchor="middle">Relative mRNA levels</text>
<line x1="230.2" y1="1420" x2="277.3" y2="1420" stroke="#000" stroke-width="3.3" stroke-linecap="round"/>
<text transform="translate(253.3 1413.7)" font-size="24.5" text-anchor="middle" font-weight="bold" font-family="'DejaVu Sans', sans-serif" style="stroke-width:0.6px">*</text>
<line x1="304.9" y1="1268" x2="357.7" y2="1268" stroke="#000" stroke-width="3.3" stroke-linecap="round"/>
<text transform="translate(330.9 1261.7)" font-size="24.5" text-anchor="middle" font-weight="bold" font-family="'DejaVu Sans', sans-serif" style="stroke-width:0.6px">**</text>
<circle cx="161" cy="1199.9" r="6.6" fill="#fdf7fc" stroke="#000" stroke-width="3.2"/>
<circle cx="161" cy="1232.9" r="6.8" fill="#000"/>
<text transform="translate(172.6 1204.2) scale(1 1.02)" font-size="24.7">RAW 264.7</text>
<text transform="translate(170.8 1240.6) scale(1 1.02)" font-size="25" font-style="italic" letter-spacing="0.8">Fip200</text>
<text transform="translate(257.2 1240.6) scale(1 1.02)" font-size="24.7">KO</text>
<rect x="563.6" y="1517.6" width="25.5" height="7.9" fill="#d6d8e8" stroke="#000" stroke-width="3.2"/>
<rect x="591.8" y="1517.6" width="24.6" height="7.9" fill="#fff" stroke="#000" stroke-width="3.2"/>
<rect x="635.8" y="1470.7" width="25.7" height="54.8" fill="#d6d8e8" stroke="#000" stroke-width="3.2"/>
<rect x="664.2" y="1510.5" width="25.9" height="15" fill="#fff" stroke="#000" stroke-width="3.2"/>
<rect x="707.9" y="1327.3" width="25.6" height="198.2" fill="#d6d8e8" stroke="#000" stroke-width="3.2"/>
<rect x="736.2" y="1473.1" width="26" height="52.4" fill="#fff" stroke="#000" stroke-width="3.2"/>
<line x1="720.8" y1="1287" x2="720.8" y2="1368" stroke="#000" stroke-width="1.8" stroke-linecap="butt"/>
<line x1="713.3" y1="1287" x2="728.3" y2="1287" stroke="#000" stroke-width="1.8" stroke-linecap="butt"/>
<line x1="713.3" y1="1368" x2="728.3" y2="1368" stroke="#000" stroke-width="1.8" stroke-linecap="butt"/>
<line x1="749.2" y1="1466.5" x2="749.2" y2="1478" stroke="#000" stroke-width="1.8" stroke-linecap="butt"/>
<line x1="741.7" y1="1466.5" x2="756.7" y2="1466.5" stroke="#000" stroke-width="1.8" stroke-linecap="butt"/>
<line x1="741.7" y1="1478" x2="756.7" y2="1478" stroke="#000" stroke-width="1.8" stroke-linecap="butt"/>
<circle cx="567.4" cy="1516.2" r="6.7" fill="#fdf7fc" stroke="#000" stroke-width="3.2"/>
<circle cx="576" cy="1516.2" r="6.7" fill="#fdf7fc" stroke="#000" stroke-width="3.2"/>
<circle cx="583.9" cy="1516.2" r="6.7" fill="#fdf7fc" stroke="#000" stroke-width="3.2"/>
<circle cx="641.3" cy="1465.7" r="6.7" fill="#fdf7fc" stroke="#000" stroke-width="3.2"/>
<circle cx="649.2" cy="1459.2" r="6.7" fill="#fdf7fc" stroke="#000" stroke-width="3.2"/>
<circle cx="656.9" cy="1463.4" r="6.7" fill="#fdf7fc" stroke="#000" stroke-width="3.2"/>
<circle cx="720.8" cy="1286.8" r="6.7" fill="#fdf7fc" stroke="#000" stroke-width="3.2"/>
<circle cx="720.8" cy="1318.6" r="6.7" fill="#fdf7fc" stroke="#000" stroke-width="3.2"/>
<circle cx="720.8" cy="1368.3" r="6.7" fill="#fdf7fc" stroke="#000" stroke-width="3.2"/>
<circle cx="598.7" cy="1516.5" r="6.9" fill="#000"/>
<circle cx="605.8" cy="1516.5" r="6.9" fill="#000"/>
<circle cx="613.5" cy="1516.5" r="6.9" fill="#000"/>
<circle cx="669.7" cy="1509.4" r="6.9" fill="#000"/>
<circle cx="677.6" cy="1504.6" r="6.9" fill="#000"/>
<circle cx="685.3" cy="1506.6" r="6.9" fill="#000"/>
<circle cx="741.1" cy="1478.5" r="6.9" fill="#000"/>
<circle cx="749.2" cy="1466.3" r="6.9" fill="#000"/>
<circle cx="758" cy="1468.4" r="6.9" fill="#000"/>
<path d="M533.3 1192.2H548V1524.5" fill="none" stroke="#000" stroke-width="3.2" stroke-linejoin="miter"/>
<line x1="533.3" y1="1524.5" x2="777.5" y2="1524.5" stroke="#000" stroke-width="3.2" stroke-linecap="butt"/>
<line x1="533.3" y1="1192.2" x2="548" y2="1192.2" stroke="#000" stroke-width="3.2" stroke-linecap="butt"/>
<text transform="translate(527.8 1201.32) scale(1 1.07)" font-size="27" text-anchor="end">40</text>
<line x1="533.3" y1="1275.28" x2="548" y2="1275.28" stroke="#000" stroke-width="3.2" stroke-linecap="butt"/>
<text transform="translate(527.8 1284.4) scale(1 1.07)" font-size="27" text-anchor="end">30</text>
<line x1="533.3" y1="1358.35" x2="548" y2="1358.35" stroke="#000" stroke-width="3.2" stroke-linecap="butt"/>
<text transform="translate(527.8 1367.47) scale(1 1.07)" font-size="27" text-anchor="end">20</text>
<line x1="533.3" y1="1441.42" x2="548" y2="1441.42" stroke="#000" stroke-width="3.2" stroke-linecap="butt"/>
<text transform="translate(527.8 1450.55) scale(1 1.07)" font-size="27" text-anchor="end">10</text>
<line x1="533.3" y1="1524.5" x2="548" y2="1524.5" stroke="#000" stroke-width="3.2" stroke-linecap="butt"/>
<text transform="translate(527.8 1533.62) scale(1 1.07)" font-size="27" text-anchor="end">0</text>
<line x1="590.2" y1="1524.5" x2="590.2" y2="1537.8" stroke="#000" stroke-width="3.2" stroke-linecap="butt"/>
<line x1="662.6" y1="1524.5" x2="662.6" y2="1537.8" stroke="#000" stroke-width="3.2" stroke-linecap="butt"/>
<line x1="734.4" y1="1524.5" x2="734.4" y2="1537.8" stroke="#000" stroke-width="3.2" stroke-linecap="butt"/>
<text transform="translate(590.2 1568.9) scale(1 1.07)" font-size="27" text-anchor="middle">0</text>
<text transform="translate(662.6 1568.9) scale(1 1.07)" font-size="27" text-anchor="middle">4</text>
<text transform="translate(734.4 1568.9) scale(1 1.07)" font-size="27" text-anchor="middle">6</text>
<text transform="translate(437.5 1567.2) scale(1 1.07)" font-size="24.6">poly(I:C) (h)</text>
<text transform="translate(658 1158.1) scale(1 1.07)" font-size="27.3" text-anchor="middle">RANTES</text>
<text transform="translate(402.3 1140.2)" font-size="48">k</text>
<text transform="translate(474.7 1339.9) rotate(-90) scale(1 1.03)" font-size="24.4" text-anchor="middle">Relative mRNA levels</text>
<line x1="631.5" y1="1439.3" x2="685.1" y2="1439.3" stroke="#000" stroke-width="3.3" stroke-linecap="round"/>
<text transform="translate(658.3 1433)" font-size="24.5" text-anchor="middle" font-weight="bold" font-family="'DejaVu Sans', sans-serif" style="stroke-width:0.6px">**</text>
<line x1="704.5" y1="1268.3" x2="751" y2="1268.3" stroke="#000" stroke-width="3.3" stroke-linecap="round"/>
<text transform="translate(727.9 1262)" font-size="24.5" text-anchor="middle" font-weight="bold" font-family="'DejaVu Sans', sans-serif" style="stroke-width:0.6px">*</text>
<rect x="1006.8" y="1502" width="24.7" height="19.7" fill="#d6d8e8" stroke="#000" stroke-width="3.2"/>
<rect x="1077.6" y="1306.2" width="25.4" height="215.5" fill="#d6d8e8" stroke="#000" stroke-width="3.2"/>
<rect x="1105.7" y="1500.5" width="25" height="21.2" fill="#fff" stroke="#000" stroke-width="3.2"/>
<line x1="1090.2" y1="1253.1" x2="1090.2" y2="1352.9" stroke="#000" stroke-width="1.8" stroke-linecap="butt"/>
<line x1="1082.7" y1="1253.1" x2="1097.7" y2="1253.1" stroke="#000" stroke-width="1.8" stroke-linecap="butt"/>
<line x1="1082.7" y1="1352.9" x2="1097.7" y2="1352.9" stroke="#000" stroke-width="1.8" stroke-linecap="butt"/>
<line x1="1117.8" y1="1487.3" x2="1117.8" y2="1510" stroke="#000" stroke-width="1.8" stroke-linecap="butt"/>
<line x1="1110.3" y1="1487.3" x2="1125.3" y2="1487.3" stroke="#000" stroke-width="1.8" stroke-linecap="butt"/>
<line x1="1110.3" y1="1510" x2="1125.3" y2="1510" stroke="#000" stroke-width="1.8" stroke-linecap="butt"/>
<circle cx="938.9" cy="1520.7" r="6.7" fill="#fdf7fc" stroke="#000" stroke-width="3.2"/>
<circle cx="946.2" cy="1520.7" r="6.7" fill="#fdf7fc" stroke="#000" stroke-width="3.2"/>
<circle cx="953.5" cy="1520.7" r="6.7" fill="#fdf7fc" stroke="#000" stroke-width="3.2"/>
<circle cx="1011" cy="1498.9" r="6.7" fill="#fdf7fc" stroke="#000" stroke-width="3.2"/>
<circle cx="1018.9" cy="1494.5" r="6.7" fill="#fdf7fc" stroke="#000" stroke-width="3.2"/>
<circle cx="1026.2" cy="1498.9" r="6.7" fill="#fdf7fc" stroke="#000" stroke-width="3.2"/>
<circle cx="1090.2" cy="1246.4" r="6.7" fill="#fdf7fc" stroke="#000" stroke-width="3.2"/>
<circle cx="1090.2" cy="1325.8" r="6.7" fill="#fdf7fc" stroke="#000" stroke-width="3.2"/>
<circle cx="1090.2" cy="1337.5" r="6.7" fill="#fdf7fc" stroke="#000" stroke-width="3.2"/>
<circle cx="968" cy="1519" r="6.9" fill="#000"/>
<circle cx="975.3" cy="1518" r="6.9" fill="#000"/>
<circle cx="982.5" cy="1519" r="6.9" fill="#000"/>
<circle cx="1039.3" cy="1516.4" r="6.9" fill="#000"/>
<circle cx="1047.1" cy="1513.5" r="6.9" fill="#000"/>
<circle cx="1055.3" cy="1514.9" r="6.9" fill="#000"/>
<circle cx="1110.5" cy="1487.3" r="6.9" fill="#000"/>
<circle cx="1126.5" cy="1494.5" r="6.9" fill="#000"/>
<circle cx="1117.8" cy="1509.1" r="6.9" fill="#000"/>
<path d="M904 1190H918.1V1520.7" fill="none" stroke="#000" stroke-width="3.2" stroke-linejoin="miter"/>
<line x1="904" y1="1520.7" x2="1146.9" y2="1520.7" stroke="#000" stroke-width="3.2" stroke-linecap="butt"/>
<line x1="904" y1="1190" x2="918.1" y2="1190" stroke="#000" stroke-width="3.2" stroke-linecap="butt"/>
<text transform="translate(897.9 1199.12) scale(1 1.07)" font-size="27" text-anchor="end">300</text>
<line x1="904" y1="1300.23" x2="918.1" y2="1300.23" stroke="#000" stroke-width="3.2" stroke-linecap="butt"/>
<text transform="translate(897.9 1309.35) scale(1 1.07)" font-size="27" text-anchor="end">200</text>
<line x1="904" y1="1410.47" x2="918.1" y2="1410.47" stroke="#000" stroke-width="3.2" stroke-linecap="butt"/>
<text transform="translate(897.9 1419.59) scale(1 1.07)" font-size="27" text-anchor="end">100</text>
<line x1="904" y1="1520.7" x2="918.1" y2="1520.7" stroke="#000" stroke-width="3.2" stroke-linecap="butt"/>
<text transform="translate(897.9 1529.82) scale(1 1.07)" font-size="27" text-anchor="end">0</text>
<line x1="959.9" y1="1520.7" x2="959.9" y2="1533.8" stroke="#000" stroke-width="3.2" stroke-linecap="butt"/>
<line x1="1032.6" y1="1520.7" x2="1032.6" y2="1533.8" stroke="#000" stroke-width="3.2" stroke-linecap="butt"/>
<line x1="1104.1" y1="1520.7" x2="1104.1" y2="1533.8" stroke="#000" stroke-width="3.2" stroke-linecap="butt"/>
<text transform="translate(959.9 1564.9) scale(1 1.07)" font-size="27" text-anchor="middle">0</text>
<text transform="translate(1032.6 1564.9) scale(1 1.07)" font-size="27" text-anchor="middle">4</text>
<text transform="translate(1104.1 1564.9) scale(1 1.07)" font-size="27" text-anchor="middle">6</text>
<text transform="translate(808.5 1563.1) scale(1 1.07)" font-size="24.3">poly(I:C) (h)</text>
<text transform="translate(1001 1156.2) scale(1 1.07)" font-size="26.8" text-anchor="middle">IP10</text>
<text transform="translate(776 1139.6)" font-size="48">l</text>
<text transform="translate(845.4 1336.8) rotate(-90) scale(1 1.03)" font-size="24.4" text-anchor="middle">Relative mRNA levels</text>
<line x1="1001.6" y1="1474.8" x2="1054.3" y2="1474.8" stroke="#000" stroke-width="3.3" stroke-linecap="round"/>
<text transform="translate(1027.6 1468.5)" font-size="24.5" text-anchor="middle" font-weight="bold" font-family="'DejaVu Sans', sans-serif" style="stroke-width:0.6px">**</text>
<line x1="1073.7" y1="1229.2" x2="1120.6" y2="1229.2" stroke="#000" stroke-width="3.3" stroke-linecap="round"/>
<text transform="translate(1097.5 1222.9)" font-size="24.5" text-anchor="middle" font-weight="bold" font-family="'DejaVu Sans', sans-serif" style="stroke-width:0.6px">*</text>
<rect x="1246.5" y="602" width="331" height="90" fill="#fbfbfb"/>
<rect x="1246.5" y="602" width="331" height="1090" fill="#fbfbfb"/>
<rect x="1255.2" y="605.2" width="78.3" height="28.68" fill="rgb(0,180,0)"/>
<rect x="1333.2" y="605.2" width="79.8" height="28.68" fill="rgb(160,220,155)"/>
<rect x="1412.7" y="605.2" width="78.3" height="28.68" fill="rgb(0,180,0)"/>
<rect x="1490.7" y="605.2" width="80.5" height="28.68" fill="rgb(0,180,0)"/>
<text transform="translate(1578.3 627.6)" font-size="22">Ccl12</text>
<rect x="1255.2" y="633.58" width="78.3" height="28.68" fill="rgb(160,220,155)"/>
<rect x="1333.2" y="633.58" width="79.8" height="28.68" fill="rgb(255,240,240)"/>
<rect x="1412.7" y="633.58" width="78.3" height="28.68" fill="rgb(85,195,75)"/>
<rect x="1490.7" y="633.58" width="80.5" height="28.68" fill="rgb(0,180,0)"/>
<text transform="translate(1578.3 656.12)" font-size="22">Ccl2</text>
<rect x="1255.2" y="661.97" width="78.3" height="28.68" fill="rgb(255,218,218)"/>
<rect x="1333.2" y="661.97" width="79.8" height="28.68" fill="rgb(255,80,72)"/>
<rect x="1412.7" y="661.97" width="78.3" height="28.68" fill="rgb(255,218,218)"/>
<rect x="1490.7" y="661.97" width="80.5" height="28.68" fill="rgb(255,205,205)"/>
<text transform="translate(1578.3 684.64)" font-size="22">Ccl4</text>
<rect x="1255.2" y="690.35" width="78.3" height="28.68" fill="rgb(165,222,160)"/>
<rect x="1333.2" y="690.35" width="79.8" height="28.68" fill="rgb(255,190,190)"/>
<rect x="1412.7" y="690.35" width="78.3" height="28.68" fill="rgb(150,218,145)"/>
<rect x="1490.7" y="690.35" width="80.5" height="28.68" fill="rgb(185,230,180)"/>
<text transform="translate(1578.3 713.16)" font-size="22">Ccl5</text>
<rect x="1255.2" y="718.74" width="78.3" height="28.68" fill="rgb(50,190,45)"/>
<rect x="1333.2" y="718.74" width="79.8" height="28.68" fill="rgb(255,215,215)"/>
<rect x="1412.7" y="718.74" width="78.3" height="28.68" fill="rgb(0,180,0)"/>
<rect x="1490.7" y="718.74" width="80.5" height="28.68" fill="rgb(185,230,180)"/>
<text transform="translate(1578.3 741.68)" font-size="22">Ccrl2</text>
<rect x="1255.2" y="747.12" width="78.3" height="28.68" fill="rgb(140,210,135)"/>
<rect x="1333.2" y="747.12" width="79.8" height="28.68" fill="rgb(255,40,0)"/>
<rect x="1412.7" y="747.12" width="78.3" height="28.68" fill="rgb(85,195,75)"/>
<rect x="1490.7" y="747.12" width="80.5" height="28.68" fill="rgb(232,245,230)"/>
<text transform="translate(1578.3 770.2)" font-size="22">Cxcl10</text>
<rect x="1255.2" y="775.5" width="78.3" height="28.68" fill="rgb(0,180,0)"/>
<rect x="1333.2" y="775.5" width="79.8" height="28.68" fill="rgb(220,240,215)"/>
<rect x="1412.7" y="775.5" width="78.3" height="28.68" fill="rgb(0,180,0)"/>
<rect x="1490.7" y="775.5" width="80.5" height="28.68" fill="rgb(0,180,0)"/>
<text transform="translate(1578.3 798.72)" font-size="22">Cxcl11</text>
<rect x="1255.2" y="803.89" width="78.3" height="28.68" fill="rgb(130,210,125)"/>
<rect x="1333.2" y="803.89" width="79.8" height="28.68" fill="rgb(255,248,248)"/>
<rect x="1412.7" y="803.89" width="78.3" height="28.68" fill="rgb(0,180,0)"/>
<rect x="1490.7" y="803.89" width="80.5" height="28.68" fill="rgb(185,230,180)"/>
<text transform="translate(1578.3 827.24)" font-size="22">Cxcl2</text>
<rect x="1255.2" y="832.27" width="78.3" height="28.68" fill="rgb(238,248,238)"/>
<rect x="1333.2" y="832.27" width="79.8" height="28.68" fill="rgb(255,170,170)"/>
<rect x="1412.7" y="832.27" width="78.3" height="28.68" fill="rgb(220,240,215)"/>
<rect x="1490.7" y="832.27" width="80.5" height="28.68" fill="rgb(255,215,215)"/>
<text transform="translate(1578.3 855.76)" font-size="22">Eif2ak2</text>
<rect x="1255.2" y="860.66" width="78.3" height="28.68" fill="rgb(145,215,140)"/>
<rect x="1333.2" y="860.66" width="79.8" height="28.68" fill="rgb(255,165,160)"/>
<rect x="1412.7" y="860.66" width="78.3" height="28.68" fill="rgb(90,200,80)"/>
<rect x="1490.7" y="860.66" width="80.5" height="28.68" fill="rgb(220,240,215)"/>
<text transform="translate(1578.3 884.28)" font-size="22">Ifi202b</text>
<rect x="1255.2" y="889.04" width="78.3" height="28.68" fill="rgb(255,218,218)"/>
<rect x="1333.2" y="889.04" width="79.8" height="28.68" fill="rgb(255,65,55)"/>
<rect x="1412.7" y="889.04" width="78.3" height="28.68" fill="rgb(238,248,238)"/>
<rect x="1490.7" y="889.04" width="80.5" height="28.68" fill="rgb(255,160,155)"/>
<text transform="translate(1578.3 912.8)" font-size="22">Ifi203</text>
<rect x="1255.2" y="917.42" width="78.3" height="28.68" fill="rgb(130,210,125)"/>
<rect x="1333.2" y="917.42" width="79.8" height="28.68" fill="rgb(255,208,208)"/>
<rect x="1412.7" y="917.42" width="78.3" height="28.68" fill="rgb(55,190,50)"/>
<rect x="1490.7" y="917.42" width="80.5" height="28.68" fill="rgb(185,230,180)"/>
<text transform="translate(1578.3 941.32)" font-size="22">Ifi204</text>
<rect x="1255.2" y="945.81" width="78.3" height="28.68" fill="rgb(120,205,115)"/>
<rect x="1333.2" y="945.81" width="79.8" height="28.68" fill="rgb(255,225,225)"/>
<rect x="1412.7" y="945.81" width="78.3" height="28.68" fill="rgb(0,180,0)"/>
<rect x="1490.7" y="945.81" width="80.5" height="28.68" fill="rgb(50,190,45)"/>
<text transform="translate(1578.3 969.84)" font-size="22">Ifi47</text>
<rect x="1255.2" y="974.19" width="78.3" height="28.68" fill="rgb(100,200,95)"/>
<rect x="1333.2" y="974.19" width="79.8" height="28.68" fill="rgb(255,145,140)"/>
<rect x="1412.7" y="974.19" width="78.3" height="28.68" fill="rgb(55,190,50)"/>
<rect x="1490.7" y="974.19" width="80.5" height="28.68" fill="rgb(240,248,240)"/>
<text transform="translate(1578.3 998.36)" font-size="22">Ifit1</text>
<rect x="1255.2" y="1002.58" width="78.3" height="28.68" fill="rgb(135,212,130)"/>
<rect x="1333.2" y="1002.58" width="79.8" height="28.68" fill="rgb(255,110,105)"/>
<rect x="1412.7" y="1002.58" width="78.3" height="28.68" fill="rgb(115,205,110)"/>
<rect x="1490.7" y="1002.58" width="80.5" height="28.68" fill="rgb(248,252,248)"/>
<text transform="translate(1578.3 1026.88)" font-size="22">Ifit2</text>
<rect x="1255.2" y="1030.96" width="78.3" height="28.68" fill="rgb(65,192,60)"/>
<rect x="1333.2" y="1030.96" width="79.8" height="28.68" fill="rgb(255,128,125)"/>
<rect x="1412.7" y="1030.96" width="78.3" height="28.68" fill="rgb(0,180,0)"/>
<rect x="1490.7" y="1030.96" width="80.5" height="28.68" fill="rgb(235,246,233)"/>
<text transform="translate(1578.3 1055.4)" font-size="22">Ifit3</text>
<rect x="1255.2" y="1059.34" width="78.3" height="28.68" fill="rgb(0,180,0)"/>
<rect x="1333.2" y="1059.34" width="79.8" height="28.68" fill="rgb(255,195,195)"/>
<rect x="1412.7" y="1059.34" width="78.3" height="28.68" fill="rgb(0,180,0)"/>
<rect x="1490.7" y="1059.34" width="80.5" height="28.68" fill="rgb(180,228,175)"/>
<text transform="translate(1578.3 1083.92)" font-size="22">Ifit3b</text>
<rect x="1255.2" y="1087.73" width="78.3" height="28.68" fill="rgb(0,180,0)"/>
<rect x="1333.2" y="1087.73" width="79.8" height="28.68" fill="rgb(235,246,233)"/>
<rect x="1412.7" y="1087.73" width="78.3" height="28.68" fill="rgb(0,180,0)"/>
<rect x="1490.7" y="1087.73" width="80.5" height="28.68" fill="rgb(65,192,60)"/>
<text transform="translate(1578.3 1112.44)" font-size="22">Ifna1</text>
<rect x="1255.2" y="1116.11" width="78.3" height="28.68" fill="rgb(0,180,0)"/>
<rect x="1333.2" y="1116.11" width="79.8" height="28.68" fill="rgb(140,213,135)"/>
<rect x="1412.7" y="1116.11" width="78.3" height="28.68" fill="rgb(0,180,0)"/>
<rect x="1490.7" y="1116.11" width="80.5" height="28.68" fill="rgb(0,180,0)"/>
<text transform="translate(1578.3 1140.96)" font-size="22">Ifna16</text>
<rect x="1255.2" y="1144.5" width="78.3" height="28.68" fill="rgb(0,180,0)"/>
<rect x="1333.2" y="1144.5" width="79.8" height="28.68" fill="rgb(255,235,235)"/>
<rect x="1412.7" y="1144.5" width="78.3" height="28.68" fill="rgb(0,180,0)"/>
<rect x="1490.7" y="1144.5" width="80.5" height="28.68" fill="rgb(140,213,135)"/>
<text transform="translate(1578.3 1169.48)" font-size="22">Ifna2</text>
<rect x="1255.2" y="1172.88" width="78.3" height="28.68" fill="rgb(0,180,0)"/>
<rect x="1333.2" y="1172.88" width="79.8" height="28.68" fill="rgb(255,180,180)"/>
<rect x="1412.7" y="1172.88" width="78.3" height="28.68" fill="rgb(0,180,0)"/>
<rect x="1490.7" y="1172.88" width="80.5" height="28.68" fill="rgb(165,222,160)"/>
<text transform="translate(1578.3 1198)" font-size="22">Ifna4</text>
<rect x="1255.2" y="1201.26" width="78.3" height="28.68" fill="rgb(0,180,0)"/>
<rect x="1333.2" y="1201.26" width="79.8" height="28.68" fill="rgb(255,215,215)"/>
<rect x="1412.7" y="1201.26" width="78.3" height="28.68" fill="rgb(0,180,0)"/>
<rect x="1490.7" y="1201.26" width="80.5" height="28.68" fill="rgb(80,198,72)"/>
<text transform="translate(1578.3 1226.52)" font-size="22">Ifna5</text>
<rect x="1255.2" y="1229.65" width="78.3" height="28.68" fill="rgb(0,180,0)"/>
<rect x="1333.2" y="1229.65" width="79.8" height="28.68" fill="rgb(222,242,218)"/>
<rect x="1412.7" y="1229.65" width="78.3" height="28.68" fill="rgb(0,180,0)"/>
<rect x="1490.7" y="1229.65" width="80.5" height="28.68" fill="rgb(0,180,0)"/>
<text transform="translate(1578.3 1255.04)" font-size="22">Ifna9</text>
<rect x="1255.2" y="1258.03" width="78.3" height="28.68" fill="rgb(0,180,0)"/>
<rect x="1333.2" y="1258.03" width="79.8" height="28.68" fill="rgb(255,150,148)"/>
<rect x="1412.7" y="1258.03" width="78.3" height="28.68" fill="rgb(0,180,0)"/>
<rect x="1490.7" y="1258.03" width="80.5" height="28.68" fill="rgb(205,235,200)"/>
<text transform="translate(1578.3 1283.56)" font-size="22">Ifnb1</text>
<rect x="1255.2" y="1286.42" width="78.3" height="28.68" fill="rgb(195,232,190)"/>
<rect x="1333.2" y="1286.42" width="79.8" height="28.68" fill="rgb(255,135,130)"/>
<rect x="1412.7" y="1286.42" width="78.3" height="28.68" fill="rgb(105,202,100)"/>
<rect x="1490.7" y="1286.42" width="80.5" height="28.68" fill="rgb(255,253,253)"/>
<text transform="translate(1578.3 1312.08)" font-size="22">Irgm2</text>
<rect x="1255.2" y="1314.8" width="78.3" height="28.68" fill="rgb(190,230,185)"/>
<rect x="1333.2" y="1314.8" width="79.8" height="28.68" fill="rgb(255,160,158)"/>
<rect x="1412.7" y="1314.8" width="78.3" height="28.68" fill="rgb(180,228,175)"/>
<rect x="1490.7" y="1314.8" width="80.5" height="28.68" fill="rgb(240,249,240)"/>
<text transform="translate(1578.3 1340.6)" font-size="22">Irf1</text>
<rect x="1255.2" y="1343.18" width="78.3" height="28.68" fill="rgb(255,236,236)"/>
<rect x="1333.2" y="1343.18" width="79.8" height="28.68" fill="rgb(255,105,100)"/>
<rect x="1412.7" y="1343.18" width="78.3" height="28.68" fill="rgb(165,222,160)"/>
<rect x="1490.7" y="1343.18" width="80.5" height="28.68" fill="rgb(255,205,205)"/>
<text transform="translate(1578.3 1369.12)" font-size="22">Irf7</text>
<rect x="1255.2" y="1371.57" width="78.3" height="28.68" fill="rgb(205,235,200)"/>
<rect x="1333.2" y="1371.57" width="79.8" height="28.68" fill="rgb(255,158,155)"/>
<rect x="1412.7" y="1371.57" width="78.3" height="28.68" fill="rgb(180,228,175)"/>
<rect x="1490.7" y="1371.57" width="80.5" height="28.68" fill="rgb(255,212,212)"/>
<text transform="translate(1578.3 1397.64)" font-size="22">Irgm1</text>
<rect x="1255.2" y="1399.95" width="78.3" height="28.68" fill="rgb(225,242,222)"/>
<rect x="1333.2" y="1399.95" width="79.8" height="28.68" fill="rgb(255,65,55)"/>
<rect x="1412.7" y="1399.95" width="78.3" height="28.68" fill="rgb(125,208,120)"/>
<rect x="1490.7" y="1399.95" width="80.5" height="28.68" fill="rgb(255,225,225)"/>
<text transform="translate(1578.3 1426.16)" font-size="22">Isg15</text>
<rect x="1255.2" y="1428.34" width="78.3" height="28.68" fill="rgb(0,180,0)"/>
<rect x="1333.2" y="1428.34" width="79.8" height="28.68" fill="rgb(255,225,225)"/>
<rect x="1412.7" y="1428.34" width="78.3" height="28.68" fill="rgb(0,180,0)"/>
<rect x="1490.7" y="1428.34" width="80.5" height="28.68" fill="rgb(65,192,60)"/>
<text transform="translate(1578.3 1454.68)" font-size="22">Mx1</text>
<rect x="1255.2" y="1456.72" width="78.3" height="28.68" fill="rgb(85,195,80)"/>
<rect x="1333.2" y="1456.72" width="79.8" height="28.68" fill="rgb(255,185,185)"/>
<rect x="1412.7" y="1456.72" width="78.3" height="28.68" fill="rgb(0,180,0)"/>
<rect x="1490.7" y="1456.72" width="80.5" height="28.68" fill="rgb(238,248,236)"/>
<text transform="translate(1578.3 1483.2)" font-size="22">Mx2</text>
<rect x="1255.2" y="1485.1" width="78.3" height="28.68" fill="rgb(140,213,135)"/>
<rect x="1333.2" y="1485.1" width="79.8" height="28.68" fill="rgb(255,250,250)"/>
<rect x="1412.7" y="1485.1" width="78.3" height="28.68" fill="rgb(45,188,40)"/>
<rect x="1490.7" y="1485.1" width="80.5" height="28.68" fill="rgb(190,230,185)"/>
<text transform="translate(1578.3 1511.72)" font-size="22">Oas1b</text>
<rect x="1255.2" y="1513.49" width="78.3" height="28.68" fill="rgb(238,248,236)"/>
<rect x="1333.2" y="1513.49" width="79.8" height="28.68" fill="rgb(255,125,122)"/>
<rect x="1412.7" y="1513.49" width="78.3" height="28.68" fill="rgb(205,235,200)"/>
<rect x="1490.7" y="1513.49" width="80.5" height="28.68" fill="rgb(255,190,190)"/>
<text transform="translate(1578.3 1540.24)" font-size="22">Oasl1</text>
<rect x="1255.2" y="1541.87" width="78.3" height="28.68" fill="rgb(115,205,110)"/>
<rect x="1333.2" y="1541.87" width="79.8" height="28.68" fill="rgb(255,195,195)"/>
<rect x="1412.7" y="1541.87" width="78.3" height="28.68" fill="rgb(25,185,20)"/>
<rect x="1490.7" y="1541.87" width="80.5" height="28.68" fill="rgb(205,235,200)"/>
<text transform="translate(1578.3 1568.76)" font-size="22">Oasl2</text>
<rect x="1255.2" y="1570.26" width="78.3" height="28.68" fill="rgb(210,237,205)"/>
<rect x="1333.2" y="1570.26" width="79.8" height="28.68" fill="rgb(255,170,170)"/>
<rect x="1412.7" y="1570.26" width="78.3" height="28.68" fill="rgb(190,230,185)"/>
<rect x="1490.7" y="1570.26" width="80.5" height="28.68" fill="rgb(255,250,250)"/>
<text transform="translate(1578.3 1597.28)" font-size="22">Stat2</text>
<rect x="1255.2" y="1598.64" width="78.3" height="28.68" fill="rgb(100,200,95)"/>
<rect x="1333.2" y="1598.64" width="79.8" height="28.68" fill="rgb(255,235,235)"/>
<rect x="1412.7" y="1598.64" width="78.3" height="28.68" fill="rgb(105,202,100)"/>
<rect x="1490.7" y="1598.64" width="80.5" height="28.68" fill="rgb(205,235,200)"/>
<text transform="translate(1578.3 1625.8)" font-size="22">Tlr3</text>
<rect x="1255.2" y="1627.02" width="78.3" height="28.68" fill="rgb(238,248,236)"/>
<rect x="1333.2" y="1627.02" width="79.8" height="28.68" fill="rgb(255,170,170)"/>
<rect x="1412.7" y="1627.02" width="78.3" height="28.68" fill="rgb(210,237,205)"/>
<rect x="1490.7" y="1627.02" width="80.5" height="28.68" fill="rgb(242,249,240)"/>
<text transform="translate(1578.3 1654.32)" font-size="22">Ube2l6</text>
<rect x="1255.2" y="1655.41" width="78.3" height="29.89" fill="rgb(95,198,90)"/>
<rect x="1333.2" y="1655.41" width="79.8" height="29.89" fill="rgb(255,195,195)"/>
<rect x="1412.7" y="1655.41" width="78.3" height="29.89" fill="rgb(0,180,0)"/>
<rect x="1490.7" y="1655.41" width="80.5" height="29.89" fill="rgb(120,206,115)"/>
<text transform="translate(1578.3 1682.84)" font-size="22">Zbp1</text>
<path d="M1333.2 605.2V1685.3M1412.7 605.2V1685.3M1490.7 605.2V1685.3M1255.2 633.58H1570.9M1255.2 661.97H1570.9M1255.2 690.35H1570.9M1255.2 718.74H1570.9M1255.2 747.12H1570.9M1255.2 775.5H1570.9M1255.2 803.89H1570.9M1255.2 832.27H1570.9M1255.2 860.66H1570.9M1255.2 889.04H1570.9M1255.2 917.42H1570.9M1255.2 945.81H1570.9M1255.2 974.19H1570.9M1255.2 1002.58H1570.9M1255.2 1030.96H1570.9M1255.2 1059.34H1570.9M1255.2 1087.73H1570.9M1255.2 1116.11H1570.9M1255.2 1144.5H1570.9M1255.2 1172.88H1570.9M1255.2 1201.26H1570.9M1255.2 1229.65H1570.9M1255.2 1258.03H1570.9M1255.2 1286.42H1570.9M1255.2 1314.8H1570.9M1255.2 1343.18H1570.9M1255.2 1371.57H1570.9M1255.2 1399.95H1570.9M1255.2 1428.34H1570.9M1255.2 1456.72H1570.9M1255.2 1485.1H1570.9M1255.2 1513.49H1570.9M1255.2 1541.87H1570.9M1255.2 1570.26H1570.9M1255.2 1598.64H1570.9M1255.2 1627.02H1570.9M1255.2 1655.41H1570.9" stroke="#fff" stroke-opacity="0.18" stroke-width="1" fill="none"/>
<rect x="1255.2" y="605.2" width="315.7" height="1080.1" fill="none" stroke="#333" stroke-width="2"/>
<text transform="translate(1327.7 555) scale(1 1.07)" font-size="27" text-anchor="middle">RAW264.7</text>
<text transform="translate(1506.7 555) scale(1 1.07)" font-size="27" text-anchor="middle"><tspan font-style="italic">Fip200</tspan> KO</text>
<line x1="1247.7" y1="569.2" x2="1397.3" y2="569.2" stroke="#000" stroke-width="3.6" stroke-linecap="butt"/>
<line x1="1428.3" y1="569.2" x2="1578.3" y2="569.2" stroke="#000" stroke-width="3.6" stroke-linecap="butt"/>
<text transform="translate(1149 594) scale(1 1.07)" font-size="27">poly(I:C)</text>
<text transform="translate(1290 598.5) scale(1 1.07)" font-size="27" text-anchor="middle">-</text>
<text transform="translate(1370.7 598.5) scale(1 1.07)" font-size="27" text-anchor="middle">+</text>
<text transform="translate(1450.7 598.5) scale(1 1.07)" font-size="27" text-anchor="middle">-</text>
<text transform="translate(1539.3 598.5) scale(1 1.07)" font-size="27" text-anchor="middle">+</text>
<text transform="translate(1112 588.3)" font-size="48">i</text>
<defs><linearGradient id="cb" x1="0" x2="1" y1="0" y2="0"><stop offset="0" stop-color="#00aa50"/><stop offset="0.27" stop-color="#6fd096"/><stop offset="0.52" stop-color="#ffffff"/><stop offset="0.75" stop-color="#ff9a9a"/><stop offset="1" stop-color="#ff0000"/></linearGradient></defs>
<rect x="1305" y="1706.4" width="246" height="25.2" fill="url(#cb)"/>
<text transform="translate(1251 1724.5) scale(1 1.07)" font-size="27.5">log<tspan font-size="18.5" dy="4" dx="0.5">2</tspan></text>
<text transform="translate(1287.8 1759) scale(1 1.07)" font-size="28">≤</text>
<text transform="translate(1306.3 1759) scale(1 1.07)" font-size="28">-1</text>
<text transform="translate(1432.3 1759) scale(1 1.07)" font-size="28" text-anchor="middle">5</text>
<text transform="translate(1537.5 1759) scale(1 1.07)" font-size="27.3">≥10</text>
</svg>
</body></html>
